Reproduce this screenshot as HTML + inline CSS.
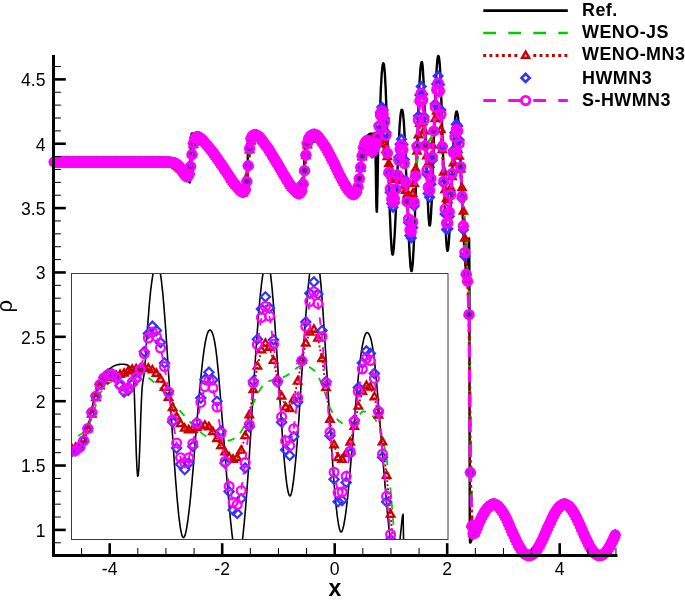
<!DOCTYPE html>
<html><head><meta charset="utf-8"><title>Shu-Osher density</title>
<style>
html,body{margin:0;padding:0;background:#fff;}
svg{display:block}
text{font-family:"Liberation Sans",sans-serif;fill:#000}
.tl{font-size:17.6px}
.lt{font-size:17.9px;font-weight:bold;letter-spacing:0.5px}
.ref{fill:none;stroke:#000;stroke-width:2.4;stroke-linejoin:round}
.js{fill:none;stroke:#00cc00;stroke-width:2.5;stroke-dasharray:12.7 12.3}
.mn{fill:none;stroke:#cc0000;stroke-width:2.9;stroke-dasharray:2.9 3.3;marker-start:url(#kT2);marker-mid:url(#kT2);marker-end:url(#kT2)}
.hw{fill:none;stroke:none;marker-start:url(#kD2);marker-mid:url(#kD2);marker-end:url(#kD2)}
.sh{fill:none;stroke:#ff00ff;stroke-width:3.1;stroke-dasharray:12.7 12.3;marker-start:url(#kC2);marker-mid:url(#kC2);marker-end:url(#kC2)}
.in .ref{stroke-width:1.6}
.in .js{stroke-width:1.8;stroke-dasharray:7.6 7.4}
.in .mn{stroke-width:1.9;stroke-dasharray:1.9 2.1;marker-start:url(#kT);marker-mid:url(#kT);marker-end:url(#kT)}
.in .hw{marker-start:url(#kD);marker-mid:url(#kD);marker-end:url(#kD)}
.in .sh{stroke-width:1.9;stroke-dasharray:7.6 7.4;marker-start:url(#kC);marker-mid:url(#kC);marker-end:url(#kC)}
.lg{marker-start:none;marker-mid:none;marker-end:none}
.maj{stroke:#000;stroke-width:2.6}
.min{stroke:#000;stroke-width:1}
.ax{stroke:#000;stroke-width:3;fill:none;stroke-linecap:square}
</style></head><body>
<svg width="685" height="601" viewBox="0 0 685 601">
<defs>
<g id="mT"><path d="M0,-4.3 L3.72,2.15 L-3.72,2.15 Z" fill="none" stroke="#cc0000" stroke-width="2.3"/></g>
<g id="mD"><path d="M0,-4.6 L4.6,0 L0,4.6 L-4.6,0 Z" fill="none" stroke="#3333ff" stroke-width="2.2"/></g>
<g id="mC"><circle r="4.45" fill="none" stroke="#ff00ff" stroke-width="2.2"/></g>
<g id="mT2"><path d="M0,-4.0 L3.46,2.0 L-3.46,2.0 Z" fill="none" stroke="#cc0000" stroke-width="2.5"/></g>
<g id="mD2"><path d="M0,-4.05 L4.05,0 L0,4.05 L-4.05,0 Z" fill="none" stroke="#3333ff" stroke-width="2.7"/></g>
<g id="mC2"><circle r="4.2" fill="none" stroke="#ff00ff" stroke-width="2.85"/></g>
<marker id="kT2" markerUnits="userSpaceOnUse" markerWidth="16" markerHeight="16" refX="0" refY="0" viewBox="-8 -8 16 16" overflow="visible"><use href="#mT2"/></marker>
<marker id="kD2" markerUnits="userSpaceOnUse" markerWidth="16" markerHeight="16" refX="0" refY="0" viewBox="-8 -8 16 16" overflow="visible"><use href="#mD2"/></marker>
<marker id="kC2" markerUnits="userSpaceOnUse" markerWidth="16" markerHeight="16" refX="0" refY="0" viewBox="-8 -8 16 16" overflow="visible"><use href="#mC2"/></marker>
<marker id="kT" markerUnits="userSpaceOnUse" markerWidth="16" markerHeight="16" refX="0" refY="0" viewBox="-8 -8 16 16" overflow="visible"><use href="#mT"/></marker>
<marker id="kD" markerUnits="userSpaceOnUse" markerWidth="16" markerHeight="16" refX="0" refY="0" viewBox="-8 -8 16 16" overflow="visible"><use href="#mD"/></marker>
<marker id="kC" markerUnits="userSpaceOnUse" markerWidth="16" markerHeight="16" refX="0" refY="0" viewBox="-8 -8 16 16" overflow="visible"><use href="#mC"/></marker>
<clipPath id="ci"><rect x="71.5" y="273.5" width="376.5" height="266.0"/></clipPath>
<clipPath id="cm"><rect x="40" y="55.0" width="585.45" height="501.5"/></clipPath>
</defs>
<rect width="685" height="601" fill="#fff"/>
<g>
<polyline class="ref" points="53.6,162.1 53.8,162.1 54.0,162.1 54.2,162.1 54.5,162.1 54.7,162.1 54.9,162.1 55.1,162.1 55.4,162.1 55.6,162.1 55.8,162.1 56.0,162.1 56.3,162.1 56.5,162.1 56.7,162.1 56.9,162.1 57.2,162.1 57.4,162.1 57.6,162.1 57.8,162.1 58.1,162.1 58.3,162.1 58.5,162.1 58.7,162.1 59.0,162.1 59.2,162.1 59.4,162.1 59.6,162.1 59.9,162.1 60.1,162.1 60.3,162.1 60.5,162.1 60.8,162.1 61.0,162.1 61.2,162.1 61.4,162.1 61.7,162.1 61.9,162.1 62.1,162.1 62.3,162.1 62.6,162.1 62.8,162.1 63.0,162.1 63.2,162.1 63.5,162.1 63.7,162.1 63.9,162.1 64.1,162.1 64.4,162.1 64.6,162.1 64.8,162.1 65.0,162.1 65.3,162.1 65.5,162.1 65.7,162.1 65.9,162.1 66.2,162.1 66.4,162.1 66.6,162.1 66.8,162.1 67.1,162.1 67.3,162.1 67.5,162.1 67.7,162.1 68.0,162.1 68.2,162.1 68.4,162.1 68.6,162.1 68.9,162.1 69.1,162.1 69.3,162.1 69.5,162.1 69.8,162.1 70.0,162.1 70.2,162.1 70.4,162.1 70.7,162.1 70.9,162.1 71.1,162.1 71.3,162.1 71.6,162.1 71.8,162.1 72.0,162.1 72.2,162.1 72.5,162.1 72.7,162.1 72.9,162.1 73.1,162.1 73.4,162.1 73.6,162.1 73.8,162.1 74.0,162.1 74.3,162.1 74.5,162.1 74.7,162.1 74.9,162.1 75.2,162.1 75.4,162.1 75.6,162.1 75.8,162.1 76.1,162.1 76.3,162.1 76.5,162.1 76.7,162.1 77.0,162.1 77.2,162.1 77.4,162.1 77.6,162.1 77.9,162.1 78.1,162.1 78.3,162.1 78.5,162.1 78.8,162.1 79.0,162.1 79.2,162.1 79.4,162.1 79.7,162.1 79.9,162.1 80.1,162.1 80.3,162.1 80.6,162.1 80.8,162.1 81.0,162.1 81.2,162.1 81.5,162.1 81.7,162.1 81.9,162.1 82.1,162.1 82.4,162.1 82.6,162.1 82.8,162.1 83.0,162.1 83.3,162.1 83.5,162.1 83.7,162.1 83.9,162.1 84.2,162.1 84.4,162.1 84.6,162.1 84.8,162.1 85.1,162.1 85.3,162.1 85.5,162.1 85.7,162.1 86.0,162.1 86.2,162.1 86.4,162.1 86.6,162.1 86.9,162.1 87.1,162.1 87.3,162.1 87.5,162.1 87.8,162.1 88.0,162.1 88.2,162.1 88.4,162.1 88.7,162.1 88.9,162.1 89.1,162.1 89.3,162.1 89.6,162.1 89.8,162.1 90.0,162.1 90.2,162.1 90.5,162.1 90.7,162.1 90.9,162.1 91.1,162.1 91.4,162.1 91.6,162.1 91.8,162.1 92.0,162.1 92.3,162.1 92.5,162.1 92.7,162.1 92.9,162.1 93.2,162.1 93.4,162.1 93.6,162.1 93.8,162.1 94.1,162.1 94.3,162.1 94.5,162.1 94.7,162.1 95.0,162.1 95.2,162.1 95.4,162.1 95.6,162.1 95.9,162.1 96.1,162.1 96.3,162.1 96.5,162.1 96.8,162.1 97.0,162.1 97.2,162.1 97.4,162.1 97.7,162.1 97.9,162.1 98.1,162.1 98.3,162.1 98.6,162.1 98.8,162.1 99.0,162.1 99.2,162.1 99.5,162.1 99.7,162.1 99.9,162.1 100.1,162.1 100.4,162.1 100.6,162.1 100.8,162.1 101.0,162.1 101.3,162.1 101.5,162.1 101.7,162.1 101.9,162.1 102.2,162.1 102.4,162.1 102.6,162.1 102.8,162.1 103.1,162.1 103.3,162.1 103.5,162.1 103.7,162.1 104.0,162.1 104.2,162.1 104.4,162.1 104.6,162.1 104.9,162.1 105.1,162.1 105.3,162.1 105.5,162.1 105.8,162.1 106.0,162.1 106.2,162.1 106.4,162.1 106.7,162.1 106.9,162.1 107.1,162.1 107.3,162.1 107.6,162.1 107.8,162.1 108.0,162.1 108.2,162.1 108.5,162.1 108.7,162.1 108.9,162.1 109.1,162.1 109.4,162.1 109.6,162.1 109.8,162.1 110.0,162.1 110.3,162.1 110.5,162.1 110.7,162.1 110.9,162.1 111.2,162.1 111.4,162.1 111.6,162.1 111.8,162.1 112.1,162.1 112.3,162.1 112.5,162.1 112.7,162.1 113.0,162.1 113.2,162.1 113.4,162.1 113.6,162.1 113.9,162.1 114.1,162.1 114.3,162.1 114.5,162.1 114.8,162.1 115.0,162.1 115.2,162.1 115.4,162.1 115.7,162.1 115.9,162.1 116.1,162.1 116.3,162.1 116.6,162.1 116.8,162.1 117.0,162.1 117.2,162.1 117.5,162.1 117.7,162.1 117.9,162.1 118.1,162.1 118.4,162.1 118.6,162.1 118.8,162.1 119.0,162.1 119.3,162.1 119.5,162.1 119.7,162.1 119.9,162.1 120.2,162.1 120.4,162.1 120.6,162.1 120.8,162.1 121.1,162.1 121.3,162.1 121.5,162.1 121.7,162.1 122.0,162.1 122.2,162.1 122.4,162.1 122.6,162.1 122.9,162.1 123.1,162.1 123.3,162.1 123.5,162.1 123.8,162.1 124.0,162.1 124.2,162.1 124.4,162.1 124.7,162.1 124.9,162.1 125.1,162.1 125.3,162.1 125.6,162.1 125.8,162.1 126.0,162.1 126.2,162.1 126.5,162.1 126.7,162.1 126.9,162.1 127.1,162.1 127.4,162.1 127.6,162.1 127.8,162.1 128.0,162.1 128.3,162.1 128.5,162.1 128.7,162.1 128.9,162.1 129.2,162.1 129.4,162.1 129.6,162.1 129.8,162.1 130.1,162.1 130.3,162.1 130.5,162.1 130.7,162.1 131.0,162.1 131.2,162.1 131.4,162.1 131.6,162.1 131.9,162.1 132.1,162.1 132.3,162.1 132.5,162.1 132.8,162.1 133.0,162.1 133.2,162.1 133.4,162.1 133.7,162.1 133.9,162.1 134.1,162.1 134.3,162.1 134.6,162.1 134.8,162.1 135.0,162.1 135.2,162.1 135.5,162.1 135.7,162.1 135.9,162.1 136.1,162.1 136.4,162.1 136.6,162.1 136.8,162.1 137.0,162.1 137.3,162.1 137.5,162.1 137.7,162.1 137.9,162.1 138.2,162.1 138.4,162.1 138.6,162.1 138.8,162.1 139.1,162.1 139.3,162.1 139.5,162.1 139.7,162.1 140.0,162.1 140.2,162.1 140.4,162.1 140.6,162.1 140.9,162.1 141.1,162.1 141.3,162.1 141.5,162.1 141.8,162.1 142.0,162.1 142.2,162.1 142.4,162.1 142.7,162.1 142.9,162.1 143.1,162.1 143.3,162.1 143.6,162.1 143.8,162.1 144.0,162.1 144.2,162.1 144.5,162.1 144.7,162.1 144.9,162.1 145.1,162.1 145.4,162.1 145.6,162.1 145.8,162.1 146.0,162.1 146.3,162.1 146.5,162.1 146.7,162.1 146.9,162.1 147.2,162.1 147.4,162.1 147.6,162.1 147.8,162.1 148.1,162.1 148.3,162.1 148.5,162.1 148.7,162.1 149.0,162.1 149.2,162.1 149.4,162.1 149.6,162.1 149.9,162.1 150.1,162.1 150.3,162.1 150.5,162.1 150.8,162.1 151.0,162.1 151.2,162.1 151.4,162.1 151.7,162.1 151.9,162.1 152.1,162.1 152.3,162.1 152.6,162.1 152.8,162.1 153.0,162.1 153.2,162.1 153.5,162.1 153.7,162.1 153.9,162.1 154.1,162.1 154.4,162.1 154.6,162.1 154.8,162.1 155.0,162.1 155.3,162.1 155.5,162.1 155.7,162.1 155.9,162.1 156.2,162.1 156.4,162.1 156.6,162.1 156.8,162.1 157.1,162.1 157.3,162.1 157.5,162.1 157.7,162.1 158.0,162.1 158.2,162.1 158.4,162.1 158.6,162.1 158.9,162.1 159.1,162.1 159.3,162.1 159.5,162.1 159.8,162.1 160.0,162.1 160.2,162.1 160.4,162.1 160.7,162.1 160.9,162.1 161.1,162.1 161.3,162.1 161.6,162.1 161.8,162.1 162.0,162.1 162.2,162.1 162.5,162.1 162.7,162.1 162.9,162.1 163.1,162.1 163.4,162.1 163.6,162.1 163.8,162.1 164.0,162.1 164.3,162.1 164.5,162.1 164.7,162.1 164.9,162.1 165.2,162.1 165.4,162.1 165.6,162.1 165.8,162.1 166.1,162.1 166.3,162.1 166.5,162.1 166.7,162.1 167.0,162.1 167.2,162.1 167.4,162.1 167.6,162.1 167.9,162.1 168.1,162.1 168.3,162.1 168.5,162.1 168.8,162.1 169.0,162.1 169.2,162.1 169.4,162.1 169.7,162.1 169.9,162.1 170.1,162.1 170.3,162.1 170.6,162.1 170.8,162.1 171.0,162.1 171.2,162.1 171.5,162.1 171.7,162.1 171.9,162.1 172.1,162.1 172.4,162.1 172.6,162.1 172.8,162.1 173.0,162.1 173.3,162.1 173.5,162.1 173.7,162.1 173.9,162.1 174.2,162.1 174.4,162.1 174.6,162.1 174.8,162.1 175.1,162.1 175.3,162.1 175.5,162.1 175.7,162.1 176.0,162.1 176.2,162.1 176.4,162.1 176.6,162.1 176.9,162.1 177.1,162.1 177.3,162.1 177.5,162.2 177.8,162.2 178.0,162.2 178.2,162.2 178.4,162.3 178.7,162.4 178.9,162.5 179.1,162.7 179.3,162.9 179.6,163.2 179.8,163.5 180.0,163.8 180.2,164.1 180.5,164.5 180.7,164.9 180.9,165.3 181.1,165.7 181.4,166.1 181.6,166.5 181.8,166.9 182.0,167.4 182.3,167.8 182.5,168.2 182.7,168.7 182.9,169.1 183.2,169.5 183.4,170.0 183.6,170.4 183.8,170.9 184.1,171.3 184.3,171.8 184.5,172.2 184.7,172.7 185.0,173.1 185.2,173.6 185.4,174.0 185.6,174.5 185.9,174.9 186.1,175.4 186.3,175.8 186.5,176.3 186.8,176.7 187.0,177.2 187.2,177.6 187.4,178.1 187.7,178.6 187.9,179.0 188.1,179.5 188.3,179.9 188.6,180.4 188.8,180.9 189.0,181.4 189.2,181.9 189.5,182.3 189.7,182.4 189.9,182.0 190.1,180.6 190.4,176.4 190.6,166.2 190.8,152.1 191.0,140.9 191.3,136.2 191.5,134.4 191.7,133.6 191.9,133.4 192.2,133.4 192.4,133.4 192.6,133.5 192.8,133.5 193.1,133.4 193.3,133.4 193.5,133.4 193.7,133.5 194.0,133.6 194.2,133.7 194.4,133.7 194.6,133.7 194.9,133.7 195.1,133.9 195.3,134.0 195.5,134.2 195.8,134.3 196.0,134.5 196.2,134.7 196.4,134.8 196.7,135.0 196.9,135.3 197.1,135.5 197.3,135.6 197.6,135.8 197.8,135.9 198.0,136.1 198.2,136.3 198.5,136.5 198.7,136.7 198.9,136.9 199.1,137.1 199.4,137.3 199.6,137.5 199.8,137.7 200.0,138.0 200.3,138.2 200.5,138.4 200.7,138.6 200.9,138.8 201.2,139.1 201.4,139.3 201.6,139.6 201.8,139.8 202.1,140.0 202.3,140.3 202.5,140.5 202.7,140.8 203.0,141.0 203.2,141.3 203.4,141.5 203.6,141.8 203.9,142.0 204.1,142.3 204.3,142.6 204.5,142.8 204.8,143.1 205.0,143.4 205.2,143.6 205.4,143.9 205.7,144.2 205.9,144.5 206.1,144.7 206.3,145.0 206.6,145.3 206.8,145.6 207.0,145.9 207.2,146.1 207.5,146.4 207.7,146.7 207.9,147.0 208.1,147.3 208.4,147.6 208.6,147.9 208.8,148.2 209.0,148.5 209.3,148.8 209.5,149.1 209.7,149.4 209.9,149.6 210.2,149.9 210.4,150.2 210.6,150.5 210.8,150.9 211.1,151.2 211.3,151.5 211.5,151.7 211.7,152.0 212.0,152.4 212.2,152.7 212.4,153.0 212.6,153.3 212.9,153.6 213.1,153.9 213.3,154.2 213.5,154.5 213.8,154.8 214.0,155.2 214.2,155.5 214.4,155.8 214.7,156.1 214.9,156.4 215.1,156.7 215.3,157.0 215.6,157.3 215.8,157.7 216.0,158.0 216.2,158.3 216.5,158.6 216.7,158.9 216.9,159.2 217.1,159.6 217.4,159.9 217.6,160.2 217.8,160.5 218.0,160.8 218.3,161.1 218.5,161.5 218.7,161.8 218.9,162.1 219.2,162.4 219.4,162.8 219.6,163.1 219.8,163.4 220.1,163.7 220.3,164.1 220.5,164.4 220.7,164.7 221.0,165.0 221.2,165.3 221.4,165.7 221.6,166.0 221.9,166.3 222.1,166.6 222.3,166.9 222.5,167.3 222.8,167.6 223.0,167.9 223.2,168.2 223.4,168.6 223.7,168.9 223.9,169.2 224.1,169.5 224.3,169.9 224.6,170.2 224.8,170.5 225.0,170.8 225.2,171.2 225.5,171.5 225.7,171.8 225.9,172.1 226.1,172.4 226.4,172.8 226.6,173.1 226.8,173.4 227.0,173.7 227.3,174.1 227.5,174.4 227.7,174.7 227.9,175.0 228.2,175.3 228.4,175.7 228.6,176.0 228.8,176.3 229.1,176.6 229.3,176.9 229.5,177.3 229.7,177.6 230.0,177.9 230.2,178.2 230.4,178.5 230.6,178.8 230.9,179.1 231.1,179.5 231.3,179.8 231.5,180.1 231.8,180.4 232.0,180.7 232.2,181.0 232.4,181.3 232.7,181.6 232.9,182.0 233.1,182.3 233.3,182.6 233.6,182.9 233.8,183.2 234.0,183.5 234.2,183.8 234.5,184.1 234.7,184.4 234.9,184.7 235.1,185.0 235.4,185.3 235.6,185.6 235.8,185.9 236.0,186.2 236.3,186.4 236.5,186.7 236.7,187.0 236.9,187.3 237.2,187.6 237.4,187.9 237.6,188.1 237.8,188.4 238.1,188.7 238.3,189.0 238.5,189.2 238.7,189.5 239.0,189.8 239.2,190.1 239.4,190.3 239.6,190.6 239.9,190.8 240.1,191.1 240.3,191.3 240.5,191.6 240.8,191.8 241.0,192.1 241.2,192.3 241.4,192.5 241.7,192.8 241.9,193.0 242.1,193.2 242.3,193.4 242.6,193.6 242.8,193.8 243.0,194.0 243.2,194.2 243.5,194.4 243.7,194.6 243.9,194.8 244.1,194.9 244.4,195.1 244.6,195.2 244.8,195.3 245.0,195.5 245.3,195.6 245.5,195.7 245.7,195.7 245.9,195.8 246.2,195.8 246.4,195.8 246.6,195.6 246.8,195.0 247.1,193.6 247.3,189.5 247.5,178.8 247.7,161.8 248.0,147.0 248.2,139.5 248.4,136.6 248.6,135.6 248.9,135.2 249.1,135.0 249.3,134.7 249.5,134.4 249.8,134.1 250.0,133.9 250.2,133.8 250.4,133.7 250.7,133.6 250.9,133.5 251.1,133.3 251.3,133.3 251.6,133.3 251.8,133.3 252.0,133.3 252.2,133.3 252.5,133.3 252.7,133.3 252.9,133.3 253.1,133.4 253.4,133.5 253.6,133.5 253.8,133.6 254.0,133.7 254.3,133.8 254.5,133.9 254.7,134.0 254.9,134.2 255.2,134.4 255.4,134.5 255.6,134.6 255.8,134.8 256.1,135.0 256.3,135.1 256.5,135.3 256.7,135.5 257.0,135.7 257.2,135.9 257.4,136.1 257.6,136.3 257.9,136.5 258.1,136.7 258.3,136.9 258.5,137.2 258.8,137.4 259.0,137.6 259.2,137.9 259.4,138.1 259.7,138.4 259.9,138.6 260.1,138.8 260.3,139.1 260.6,139.3 260.8,139.6 261.0,139.9 261.2,140.2 261.5,140.4 261.7,140.7 261.9,141.0 262.1,141.3 262.4,141.6 262.6,141.8 262.8,142.1 263.0,142.4 263.3,142.7 263.5,143.0 263.7,143.3 263.9,143.6 264.2,143.9 264.4,144.2 264.6,144.6 264.8,144.9 265.1,145.2 265.3,145.5 265.5,145.8 265.7,146.1 266.0,146.5 266.2,146.8 266.4,147.1 266.6,147.4 266.9,147.8 267.1,148.1 267.3,148.4 267.5,148.8 267.8,149.1 268.0,149.4 268.2,149.8 268.4,150.1 268.7,150.5 268.9,150.8 269.1,151.2 269.3,151.5 269.6,151.8 269.8,152.2 270.0,152.6 270.2,152.9 270.5,153.3 270.7,153.6 270.9,154.0 271.1,154.3 271.4,154.7 271.6,155.0 271.8,155.4 272.0,155.8 272.3,156.1 272.5,156.5 272.7,156.8 272.9,157.2 273.2,157.6 273.4,157.9 273.6,158.3 273.8,158.7 274.1,159.0 274.3,159.4 274.5,159.8 274.7,160.1 275.0,160.5 275.2,160.9 275.4,161.2 275.6,161.6 275.9,162.0 276.1,162.3 276.3,162.7 276.5,163.1 276.8,163.5 277.0,163.8 277.2,164.2 277.4,164.6 277.7,165.0 277.9,165.3 278.1,165.7 278.3,166.1 278.6,166.4 278.8,166.8 279.0,167.2 279.2,167.6 279.5,167.9 279.7,168.3 279.9,168.7 280.1,169.1 280.4,169.4 280.6,169.8 280.8,170.2 281.0,170.6 281.3,170.9 281.5,171.3 281.7,171.7 281.9,172.1 282.2,172.4 282.4,172.8 282.6,173.2 282.8,173.6 283.1,173.9 283.3,174.3 283.5,174.7 283.7,175.1 284.0,175.4 284.2,175.8 284.4,176.2 284.6,176.5 284.9,176.9 285.1,177.3 285.3,177.6 285.5,178.0 285.8,178.4 286.0,178.7 286.2,179.1 286.4,179.5 286.7,179.8 286.9,180.2 287.1,180.5 287.3,180.9 287.6,181.3 287.8,181.6 288.0,182.0 288.2,182.3 288.5,182.7 288.7,183.0 288.9,183.4 289.1,183.7 289.4,184.1 289.6,184.4 289.8,184.8 290.0,185.1 290.3,185.4 290.5,185.8 290.7,186.1 290.9,186.5 291.2,186.8 291.4,187.1 291.6,187.4 291.8,187.8 292.1,188.1 292.3,188.4 292.5,188.7 292.7,189.0 293.0,189.3 293.2,189.6 293.4,189.9 293.6,190.2 293.9,190.5 294.1,190.8 294.3,191.1 294.5,191.4 294.8,191.7 295.0,191.9 295.2,192.2 295.4,192.5 295.7,192.7 295.9,193.0 296.1,193.2 296.3,193.5 296.6,193.7 296.8,193.9 297.0,194.1 297.2,194.3 297.5,194.5 297.7,194.7 297.9,194.9 298.1,195.0 298.4,195.2 298.6,195.3 298.8,195.5 299.0,195.6 299.3,195.7 299.5,195.7 299.7,195.8 299.9,195.8 300.2,195.8 300.4,195.8 300.6,195.8 300.8,195.7 301.1,195.6 301.3,195.4 301.5,195.2 301.7,194.9 302.0,194.6 302.2,194.1 302.4,193.5 302.6,192.8 302.9,192.0 303.1,190.9 303.3,189.3 303.5,186.3 303.8,180.2 304.0,171.3 304.2,162.0 304.4,155.0 304.7,151.0 304.9,148.8 305.1,147.1 305.3,145.5 305.6,144.0 305.8,142.7 306.0,141.7 306.2,140.7 306.5,139.9 306.7,139.2 306.9,138.5 307.1,137.9 307.4,137.4 307.6,136.9 307.8,136.4 308.0,136.0 308.3,135.7 308.5,135.3 308.7,135.0 308.9,134.8 309.2,134.5 309.4,134.3 309.6,134.1 309.8,134.0 310.1,133.8 310.3,133.7 310.5,133.6 310.7,133.5 311.0,133.5 311.2,133.4 311.4,133.4 311.6,133.4 311.9,133.4 312.1,133.4 312.3,133.4 312.5,133.4 312.8,133.5 313.0,133.5 313.2,133.6 313.4,133.7 313.7,133.8 313.9,133.9 314.1,134.0 314.3,134.1 314.6,134.3 314.8,134.4 315.0,134.6 315.2,134.7 315.5,134.9 315.7,135.1 315.9,135.3 316.1,135.5 316.4,135.7 316.6,135.9 316.8,136.1 317.0,136.3 317.3,136.5 317.5,136.8 317.7,137.0 317.9,137.3 318.2,137.5 318.4,137.8 318.6,138.0 318.8,138.3 319.1,138.6 319.3,138.9 319.5,139.1 319.7,139.4 320.0,139.7 320.2,140.0 320.4,140.3 320.6,140.6 320.9,140.9 321.1,141.3 321.3,141.6 321.5,141.9 321.8,142.2 322.0,142.6 322.2,142.9 322.4,143.3 322.7,143.6 322.9,144.0 323.1,144.3 323.3,144.7 323.6,145.0 323.8,145.4 324.0,145.8 324.2,146.1 324.5,146.5 324.7,146.9 324.9,147.3 325.1,147.6 325.4,148.0 325.6,148.4 325.8,148.8 326.0,149.2 326.3,149.6 326.5,150.0 326.7,150.4 326.9,150.8 327.2,151.2 327.4,151.6 327.6,152.0 327.8,152.4 328.1,152.8 328.3,153.2 328.5,153.7 328.7,154.1 329.0,154.5 329.2,154.9 329.4,155.3 329.6,155.8 329.9,156.2 330.1,156.6 330.3,157.1 330.5,157.5 330.8,157.9 331.0,158.4 331.2,158.8 331.4,159.2 331.7,159.7 331.9,160.1 332.1,160.5 332.3,161.0 332.6,161.4 332.8,161.9 333.0,162.3 333.2,162.7 333.5,163.2 333.7,163.6 333.9,164.1 334.1,164.5 334.4,165.0 334.6,165.4 334.8,165.9 335.0,166.3 335.3,166.8 335.5,167.2 335.7,167.7 335.9,168.1 336.2,168.6 336.4,169.0 336.6,169.5 336.8,169.9 337.1,170.4 337.3,170.8 337.5,171.3 337.7,171.7 338.0,172.2 338.2,172.6 338.4,173.1 338.6,173.5 338.9,174.0 339.1,174.4 339.3,174.8 339.5,175.3 339.8,175.7 340.0,176.2 340.2,176.6 340.4,177.1 340.7,177.5 340.9,177.9 341.1,178.4 341.3,178.8 341.6,179.3 341.8,179.7 342.0,180.1 342.2,180.6 342.5,181.0 342.7,181.4 342.9,181.8 343.1,182.3 343.4,182.7 343.6,183.1 343.8,183.5 344.0,183.9 344.3,184.3 344.5,184.7 344.7,185.2 344.9,185.6 345.2,186.0 345.4,186.4 345.6,186.7 345.8,187.1 346.1,187.5 346.3,187.9 346.5,188.3 346.7,188.6 347.0,189.0 347.2,189.4 347.4,189.7 347.6,190.1 347.9,190.4 348.1,190.8 348.3,191.1 348.5,191.4 348.8,191.8 349.0,192.1 349.2,192.4 349.4,192.7 349.7,193.0 349.9,193.2 350.1,193.5 350.3,193.8 350.6,194.0 350.8,194.3 351.0,194.5 351.2,194.7 351.5,194.9 351.7,195.1 351.9,195.3 352.1,195.5 352.4,195.6 352.6,195.8 352.8,195.9 353.0,196.0 353.3,196.0 353.5,196.1 353.7,196.1 353.9,196.1 354.2,196.1 354.4,196.1 354.6,196.0 354.8,195.8 355.1,195.7 355.3,195.5 355.5,195.2 355.7,194.9 356.0,194.5 356.2,194.1 356.4,193.7 356.6,193.1 356.9,192.5 357.1,191.8 357.3,191.0 357.5,190.1 357.8,189.0 358.0,187.8 358.2,186.5 358.4,185.1 358.7,183.5 358.9,181.7 359.1,179.8 359.3,177.8 359.6,175.7 359.8,173.5 360.0,171.3 360.2,169.1 360.5,166.9 360.7,164.8 360.9,162.8 361.1,160.9 361.4,159.1 361.6,157.3 361.8,155.7 362.0,154.2 362.3,152.8 362.5,151.5 362.7,150.2 362.9,149.0 363.2,147.9 363.4,146.8 363.6,145.9 363.8,144.9 364.1,144.1 364.3,143.3 364.5,142.5 364.7,141.8 365.0,141.1 365.2,140.5 365.4,139.9 365.6,139.3 365.9,138.8 366.1,138.3 366.3,137.8 366.5,137.4 366.8,137.0 367.0,136.6 367.2,136.3 367.4,136.0 367.7,135.7 367.9,135.4 368.1,135.1 368.3,134.9 368.6,134.7 368.8,134.5 369.0,134.4 369.2,134.2 369.5,134.1 369.7,134.0 369.9,133.8 370.1,133.8 370.4,133.7 370.6,133.6 370.8,133.6 371.0,133.6 371.3,133.6 371.5,133.6 371.7,133.6 371.9,133.6 372.2,133.7 372.4,133.8 372.6,133.8 372.8,133.9 373.1,134.1 373.3,134.3 373.5,134.6 373.7,135.0 374.0,135.4 374.2,135.9 374.4,136.4 374.6,137.0 374.9,138.0 375.1,140.0 375.3,145.4 375.5,155.3 375.8,168.4 376.0,182.8 376.2,196.3 376.4,206.5 376.7,211.8 376.9,211.5 377.1,205.9 377.3,196.0 377.6,183.4 377.8,169.9 378.0,157.7 378.2,150.2 378.5,146.0 378.7,143.4 378.9,140.6 379.1,136.5 379.4,130.9 379.6,123.6 379.8,116.7 380.0,110.4 380.3,104.2 380.5,98.2 380.7,92.7 380.9,87.6 381.2,83.1 381.4,79.2 381.6,75.8 381.8,72.8 382.1,70.2 382.3,68.0 382.5,66.2 382.7,64.8 383.0,63.9 383.2,63.3 383.4,63.3 383.6,63.6 383.9,64.5 384.1,65.7 384.3,67.5 384.5,69.7 384.8,72.5 385.0,75.8 385.2,79.6 385.4,84.0 385.7,89.0 385.9,94.4 386.1,100.2 386.3,106.4 386.6,112.8 386.8,119.5 387.0,126.4 387.2,133.3 387.5,140.4 387.7,147.5 387.9,154.6 388.1,161.8 388.4,168.9 388.6,175.9 388.8,182.9 389.0,189.8 389.3,196.5 389.5,203.1 389.7,209.4 389.9,215.4 390.2,221.1 390.4,226.5 390.6,231.5 390.8,236.1 391.1,240.3 391.3,244.0 391.5,247.2 391.7,249.9 392.0,252.0 392.2,253.5 392.4,254.5 392.6,254.7 392.9,254.4 393.1,253.6 393.3,252.1 393.5,250.2 393.8,247.9 394.0,245.1 394.2,242.0 394.4,238.5 394.7,234.7 394.9,230.6 395.1,226.2 395.3,221.6 395.6,216.7 395.8,211.5 396.0,206.2 396.2,200.8 396.5,195.2 396.7,189.6 396.9,184.0 397.1,178.4 397.4,172.9 397.6,167.4 397.8,162.1 398.0,156.9 398.3,151.9 398.5,147.1 398.7,142.5 398.9,138.1 399.2,134.0 399.4,130.2 399.6,126.6 399.8,123.4 400.1,120.4 400.3,117.9 400.5,115.6 400.7,113.7 401.0,112.2 401.2,111.1 401.4,110.3 401.6,109.8 401.9,109.7 402.1,109.8 402.3,110.3 402.5,111.0 402.8,112.1 403.0,113.5 403.2,115.2 403.4,117.4 403.7,119.9 403.9,123.0 404.1,126.5 404.3,130.4 404.6,134.7 404.8,139.4 405.0,144.4 405.2,149.7 405.5,155.1 405.7,160.7 405.9,166.3 406.1,172.1 406.4,177.8 406.6,183.6 406.8,189.3 407.0,195.1 407.3,200.8 407.5,206.5 407.7,212.1 407.9,217.7 408.2,223.1 408.4,228.4 408.6,233.6 408.8,238.5 409.1,243.2 409.3,247.6 409.5,251.7 409.7,255.5 410.0,259.0 410.2,262.1 410.4,264.8 410.6,267.0 410.9,268.8 411.1,270.1 411.3,270.9 411.5,271.1 411.8,270.8 412.0,269.8 412.2,268.4 412.4,266.4 412.7,263.9 412.9,260.9 413.1,257.5 413.3,253.7 413.6,249.5 413.8,244.9 414.0,240.0 414.2,234.8 414.5,229.2 414.7,223.3 414.9,217.0 415.1,210.5 415.4,203.8 415.6,196.8 415.8,189.7 416.0,182.5 416.3,175.2 416.5,167.9 416.7,160.6 416.9,153.3 417.2,146.1 417.4,139.0 417.6,132.1 417.8,125.3 418.1,118.7 418.3,112.3 418.5,106.3 418.7,100.5 419.0,95.0 419.2,89.9 419.4,85.2 419.6,80.9 419.9,77.0 420.1,73.6 420.3,70.6 420.5,68.1 420.8,66.0 421.0,64.4 421.2,63.2 421.4,62.4 421.7,62.0 421.9,62.1 422.1,62.7 422.3,63.9 422.6,65.7 422.8,68.3 423.0,71.5 423.2,75.3 423.5,79.8 423.7,84.9 423.9,90.4 424.1,96.2 424.4,102.4 424.6,108.8 424.8,115.3 425.0,122.0 425.3,128.7 425.5,135.5 425.7,142.3 425.9,149.2 426.2,156.1 426.4,162.9 426.6,169.7 426.8,176.3 427.1,182.8 427.3,189.0 427.5,194.8 427.7,200.3 428.0,205.3 428.2,209.9 428.4,214.0 428.6,217.5 428.9,220.4 429.1,222.8 429.3,224.4 429.5,225.4 429.8,225.6 430.0,225.1 430.2,223.9 430.4,221.9 430.7,219.3 430.9,216.2 431.1,212.6 431.3,208.5 431.6,204.0 431.8,199.1 432.0,193.9 432.2,188.2 432.5,182.2 432.7,175.9 432.9,169.3 433.1,162.5 433.4,155.6 433.6,148.6 433.8,141.6 434.0,134.6 434.3,127.7 434.5,120.9 434.7,114.3 434.9,107.9 435.2,101.8 435.4,95.9 435.6,90.3 435.8,85.0 436.1,80.1 436.3,75.6 436.5,71.5 436.7,67.9 437.0,64.7 437.2,62.0 437.4,59.8 437.6,58.1 437.9,56.8 438.1,56.1 438.3,55.9 438.5,56.0 438.8,56.6 439.0,57.7 439.2,59.1 439.4,61.0 439.7,63.5 439.9,66.4 440.1,70.0 440.3,74.3 440.6,79.1 440.8,84.5 441.0,90.5 441.2,96.8 441.5,103.5 441.7,110.5 441.9,117.6 442.1,124.8 442.4,132.1 442.6,139.4 442.8,146.7 443.0,154.0 443.3,161.3 443.5,168.6 443.7,175.8 443.9,182.9 444.2,189.9 444.4,196.7 444.6,203.3 444.8,209.7 445.1,215.7 445.3,221.3 445.5,226.5 445.7,231.3 446.0,235.6 446.2,239.4 446.4,242.8 446.6,245.6 446.9,247.8 447.1,249.5 447.3,250.5 447.5,250.8 447.8,250.6 448.0,249.7 448.2,248.3 448.4,246.3 448.7,244.0 448.9,241.2 449.1,238.2 449.3,234.8 449.6,231.1 449.8,227.1 450.0,222.7 450.2,218.1 450.5,213.2 450.7,208.1 450.9,202.8 451.1,197.4 451.4,191.9 451.6,186.5 451.8,181.0 452.0,175.6 452.3,170.2 452.5,165.0 452.7,159.9 452.9,154.9 453.2,150.1 453.4,145.5 453.6,141.1 453.8,137.0 454.1,133.1 454.3,129.5 454.5,126.2 454.7,123.2 455.0,120.6 455.2,118.2 455.4,116.2 455.6,114.6 455.9,113.3 456.1,112.3 456.3,111.7 456.5,111.5 456.8,111.5 457.0,111.9 457.2,112.4 457.4,113.3 457.7,114.4 457.9,115.8 458.1,117.6 458.3,119.7 458.6,122.2 458.8,125.3 459.0,128.8 459.2,132.7 459.5,137.0 459.7,141.7 459.9,146.7 460.1,151.9 460.4,157.2 460.6,162.7 460.8,168.2 461.0,173.8 461.3,179.4 461.5,185.0 461.7,190.5 461.9,196.1 462.2,201.7 462.4,207.2 462.6,212.7 462.8,218.1 463.1,223.4 463.3,228.6 463.5,233.7 463.7,238.7 464.0,243.4 464.2,247.8 464.4,251.9 464.6,255.6 464.9,259.0 465.1,261.9 465.3,264.5 465.5,266.6 465.8,268.4 466.0,269.7 466.2,270.5 466.4,270.7 466.7,270.5 466.9,269.6 467.1,268.6 467.3,266.9 467.6,264.4 467.8,261.0 468.0,256.8 468.2,252.6 468.5,248.2 468.7,243.7 468.9,239.7 469.1,238.4 469.4,265.2 469.6,425.3 469.8,533.0 470.0,542.3 470.3,542.6 470.5,542.2 470.7,541.7 470.9,541.2 471.2,540.8 471.4,540.3 471.6,539.8 471.8,539.4 472.1,538.9 472.3,538.4 472.5,537.9 472.7,537.4 473.0,536.9 473.2,536.4 473.4,535.9 473.6,535.4 473.9,534.9 474.1,534.4 474.3,533.9 474.5,533.4 474.8,532.9 475.0,532.4 475.2,531.9 475.4,531.4 475.7,530.8 475.9,530.3 476.1,529.8 476.3,529.3 476.6,528.8 476.8,528.3 477.0,527.7 477.2,527.2 477.5,526.7 477.7,526.2 477.9,525.7 478.1,525.2 478.4,524.7 478.6,524.2 478.8,523.7 479.0,523.2 479.3,522.7 479.5,522.2 479.7,521.7 479.9,521.2 480.2,520.7 480.4,520.3 480.6,519.8 480.8,519.3 481.1,518.9 481.3,518.4 481.5,517.9 481.7,517.5 482.0,517.0 482.2,516.6 482.4,516.1 482.6,515.7 482.9,515.3 483.1,514.9 483.3,514.5 483.5,514.0 483.8,513.6 484.0,513.2 484.2,512.9 484.4,512.5 484.7,512.1 484.9,511.7 485.1,511.4 485.3,511.0 485.6,510.7 485.8,510.3 486.0,510.0 486.2,509.7 486.5,509.4 486.7,509.1 486.9,508.8 487.1,508.5 487.4,508.2 487.6,507.9 487.8,507.7 488.0,507.4 488.3,507.2 488.5,506.9 488.7,506.7 488.9,506.5 489.2,506.3 489.4,506.1 489.6,505.9 489.8,505.7 490.1,505.5 490.3,505.4 490.5,505.2 490.7,505.1 491.0,504.9 491.2,504.8 491.4,504.7 491.6,504.6 491.9,504.5 492.1,504.4 492.3,504.4 492.5,504.3 492.8,504.3 493.0,504.2 493.2,504.2 493.4,504.2 493.7,504.2 493.9,504.2 494.1,504.2 494.3,504.2 494.6,504.2 494.8,504.3 495.0,504.3 495.2,504.4 495.5,504.5 495.7,504.5 495.9,504.6 496.1,504.7 496.4,504.9 496.6,505.0 496.8,505.1 497.0,505.3 497.3,505.4 497.5,505.6 497.7,505.7 497.9,505.9 498.2,506.1 498.4,506.3 498.6,506.5 498.8,506.8 499.1,507.0 499.3,507.2 499.5,507.5 499.7,507.7 500.0,508.0 500.2,508.3 500.4,508.5 500.6,508.8 500.9,509.1 501.1,509.4 501.3,509.8 501.5,510.1 501.8,510.4 502.0,510.8 502.2,511.1 502.4,511.5 502.7,511.8 502.9,512.2 503.1,512.6 503.3,513.0 503.6,513.4 503.8,513.8 504.0,514.2 504.2,514.6 504.5,515.0 504.7,515.4 504.9,515.8 505.1,516.3 505.4,516.7 505.6,517.2 505.8,517.6 506.0,518.1 506.3,518.5 506.5,519.0 506.7,519.5 506.9,519.9 507.2,520.4 507.4,520.9 507.6,521.4 507.8,521.9 508.1,522.3 508.3,522.8 508.5,523.3 508.7,523.8 509.0,524.3 509.2,524.8 509.4,525.3 509.6,525.9 509.9,526.4 510.1,526.9 510.3,527.4 510.5,527.9 510.8,528.4 511.0,528.9 511.2,529.4 511.4,530.0 511.7,530.5 511.9,531.0 512.1,531.5 512.3,532.0 512.6,532.5 512.8,533.0 513.0,533.5 513.2,534.1 513.5,534.6 513.7,535.1 513.9,535.6 514.1,536.1 514.4,536.6 514.6,537.1 514.8,537.6 515.0,538.0 515.3,538.5 515.5,539.0 515.7,539.5 515.9,540.0 516.2,540.4 516.4,540.9 516.6,541.4 516.8,541.8 517.1,542.3 517.3,542.7 517.5,543.2 517.7,543.6 518.0,544.1 518.2,544.5 518.4,544.9 518.6,545.3 518.9,545.7 519.1,546.1 519.3,546.5 519.5,546.9 519.8,547.3 520.0,547.7 520.2,548.0 520.4,548.4 520.7,548.8 520.9,549.1 521.1,549.4 521.3,549.8 521.6,550.1 521.8,550.4 522.0,550.7 522.2,551.0 522.5,551.3 522.7,551.6 522.9,551.9 523.1,552.1 523.4,552.4 523.6,552.6 523.8,552.9 524.0,553.1 524.3,553.3 524.5,553.5 524.7,553.7 524.9,553.9 525.2,554.1 525.4,554.3 525.6,554.4 525.8,554.6 526.1,554.7 526.3,554.9 526.5,555.0 526.7,555.1 527.0,555.2 527.2,555.3 527.4,555.4 527.6,555.4 527.9,555.5 528.1,555.5 528.3,555.6 528.5,555.6 528.8,555.6 529.0,555.6 529.2,555.6 529.4,555.6 529.7,555.6 529.9,555.6 530.1,555.5 530.3,555.5 530.6,555.4 530.8,555.4 531.0,555.3 531.2,555.2 531.5,555.1 531.7,555.0 531.9,554.8 532.1,554.7 532.4,554.6 532.6,554.4 532.8,554.2 533.0,554.1 533.3,553.9 533.5,553.7 533.7,553.5 533.9,553.3 534.2,553.1 534.4,552.8 534.6,552.6 534.8,552.4 535.1,552.1 535.3,551.8 535.5,551.6 535.7,551.3 536.0,551.0 536.2,550.7 536.4,550.4 536.6,550.1 536.9,549.7 537.1,549.4 537.3,549.1 537.5,548.7 537.8,548.4 538.0,548.0 538.2,547.6 538.4,547.3 538.7,546.9 538.9,546.5 539.1,546.1 539.3,545.7 539.6,545.3 539.8,544.8 540.0,544.4 540.2,544.0 540.5,543.6 540.7,543.1 540.9,542.7 541.1,542.2 541.4,541.8 541.6,541.3 541.8,540.9 542.0,540.4 542.3,539.9 542.5,539.4 542.7,539.0 542.9,538.5 543.2,538.0 543.4,537.5 543.6,537.0 543.8,536.5 544.1,536.0 544.3,535.5 544.5,535.0 544.7,534.5 545.0,534.0 545.2,533.5 545.4,533.0 545.6,532.5 545.9,531.9 546.1,531.4 546.3,530.9 546.5,530.4 546.8,529.9 547.0,529.4 547.2,528.9 547.4,528.3 547.7,527.8 547.9,527.3 548.1,526.8 548.3,526.3 548.6,525.8 548.8,525.3 549.0,524.8 549.2,524.3 549.5,523.8 549.7,523.3 549.9,522.8 550.1,522.3 550.4,521.8 550.6,521.3 550.8,520.8 551.0,520.3 551.3,519.9 551.5,519.4 551.7,518.9 551.9,518.5 552.2,518.0 552.4,517.5 552.6,517.1 552.8,516.7 553.1,516.2 553.3,515.8 553.5,515.4 553.7,514.9 554.0,514.5 554.2,514.1 554.4,513.7 554.6,513.3 554.9,512.9 555.1,512.5 555.3,512.2 555.5,511.8 555.8,511.4 556.0,511.1 556.2,510.7 556.4,510.4 556.7,510.1 556.9,509.7 557.1,509.4 557.3,509.1 557.6,508.8 557.8,508.5 558.0,508.2 558.2,508.0 558.5,507.7 558.7,507.4 558.9,507.2 559.1,507.0 559.4,506.7 559.6,506.5 559.8,506.3 560.0,506.1 560.3,505.9 560.5,505.7 560.7,505.5 560.9,505.4 561.2,505.2 561.4,505.1 561.6,505.0 561.8,504.8 562.1,504.7 562.3,504.6 562.5,504.5 562.7,504.4 563.0,504.4 563.2,504.3 563.4,504.3 563.6,504.2 563.9,504.2 564.1,504.2 564.3,504.2 564.5,504.2 564.8,504.2 565.0,504.2 565.2,504.2 565.4,504.3 565.7,504.3 565.9,504.4 566.1,504.4 566.3,504.5 566.6,504.6 566.8,504.7 567.0,504.8 567.2,505.0 567.5,505.1 567.7,505.2 567.9,505.4 568.1,505.5 568.4,505.7 568.6,505.9 568.8,506.1 569.0,506.3 569.3,506.5 569.5,506.7 569.7,506.9 569.9,507.2 570.2,507.4 570.4,507.7 570.6,507.9 570.8,508.2 571.1,508.5 571.3,508.8 571.5,509.1 571.7,509.4 572.0,509.7 572.2,510.0 572.4,510.4 572.6,510.7 572.9,511.1 573.1,511.4 573.3,511.8 573.5,512.1 573.8,512.5 574.0,512.9 574.2,513.3 574.4,513.7 574.7,514.1 574.9,514.5 575.1,514.9 575.3,515.3 575.6,515.8 575.8,516.2 576.0,516.6 576.2,517.1 576.5,517.5 576.7,518.0 576.9,518.4 577.1,518.9 577.4,519.4 577.6,519.8 577.8,520.3 578.0,520.8 578.3,521.3 578.5,521.8 578.7,522.3 578.9,522.8 579.2,523.3 579.4,523.8 579.6,524.3 579.8,524.8 580.1,525.3 580.3,525.8 580.5,526.3 580.7,526.8 581.0,527.3 581.2,527.8 581.4,528.3 581.6,528.8 581.9,529.4 582.1,529.9 582.3,530.4 582.5,530.9 582.8,531.4 583.0,531.9 583.2,532.4 583.4,533.0 583.7,533.5 583.9,534.0 584.1,534.5 584.3,535.0 584.6,535.5 584.8,536.0 585.0,536.5 585.2,537.0 585.5,537.5 585.7,538.0 585.9,538.5 586.1,538.9 586.4,539.4 586.6,539.9 586.8,540.4 587.0,540.8 587.3,541.3 587.5,541.8 587.7,542.2 587.9,542.7 588.2,543.1 588.4,543.5 588.6,544.0 588.8,544.4 589.1,544.8 589.3,545.3 589.5,545.7 589.7,546.1 590.0,546.5 590.2,546.9 590.4,547.2 590.6,547.6 590.9,548.0 591.1,548.3 591.3,548.7 591.5,549.1 591.8,549.4 592.0,549.7 592.2,550.0 592.4,550.4 592.7,550.7 592.9,551.0 593.1,551.3 593.3,551.5 593.6,551.8 593.8,552.1 594.0,552.3 594.2,552.6 594.5,552.8 594.7,553.1 594.9,553.3 595.1,553.5 595.4,553.7 595.6,553.9 595.8,554.1 596.0,554.2 596.3,554.4 596.5,554.6 596.7,554.7 596.9,554.8 597.2,555.0 597.4,555.1 597.6,555.2 597.8,555.3 598.1,555.3 598.3,555.4 598.5,555.5 598.7,555.5 599.0,555.6 599.2,555.6 599.4,555.6 599.6,555.6 599.9,555.6 600.1,555.6 600.3,555.6 600.5,555.6 600.8,555.5 601.0,555.5 601.2,555.4 601.4,555.4 601.7,555.3 601.9,555.2 602.1,555.1 602.3,555.0 602.6,554.9 602.8,554.7 603.0,554.6 603.2,554.4 603.5,554.3 603.7,554.1 603.9,553.9 604.1,553.7 604.4,553.5 604.6,553.3 604.8,553.1 605.0,552.9 605.3,552.6 605.5,552.4 605.7,552.1 605.9,551.9 606.2,551.6 606.4,551.3 606.6,551.0 606.8,550.7 607.1,550.4 607.3,550.1 607.5,549.8 607.7,549.5 608.0,549.1 608.2,548.8 608.4,548.4 608.6,548.1 608.9,547.7 609.1,547.3 609.3,546.9 609.5,546.5 609.8,546.1 610.0,545.7 610.2,545.3 610.4,544.9 610.7,544.5 610.9,544.1 611.1,543.6 611.3,543.2 611.6,542.8 611.8,542.3 612.0,541.9 612.2,541.4 612.5,540.9 612.7,540.5 612.9,540.0 613.1,539.5 613.4,539.0 613.6,538.6 613.8,538.1 614.0,537.6 614.3,537.1 614.5,536.6 614.7,536.1 614.9,535.6 615.2,535.1 615.4,534.6 615.6,534.1 615.8,533.6"/>
<polyline class="js" points="54.2,162.1 55.6,162.1 57.0,162.1 58.4,162.1 59.8,162.1 61.2,162.1 62.6,162.1 64.0,162.1 65.4,162.1 66.8,162.1 68.2,162.1 69.6,162.1 71.0,162.1 72.4,162.1 73.8,162.1 75.2,162.1 76.7,162.1 78.1,162.1 79.5,162.1 80.9,162.1 82.3,162.1 83.7,162.1 85.1,162.1 86.5,162.1 87.9,162.1 89.3,162.1 90.7,162.1 92.1,162.1 93.5,162.1 94.9,162.1 96.3,162.1 97.7,162.1 99.2,162.1 100.6,162.1 102.0,162.1 103.4,162.1 104.8,162.1 106.2,162.1 107.6,162.1 109.0,162.1 110.4,162.1 111.8,162.1 113.2,162.1 114.6,162.1 116.0,162.1 117.4,162.1 118.8,162.1 120.2,162.1 121.7,162.1 123.1,162.1 124.5,162.1 125.9,162.1 127.3,162.1 128.7,162.1 130.1,162.1 131.5,162.1 132.9,162.1 134.3,162.1 135.7,162.1 137.1,162.1 138.5,162.1 139.9,162.1 141.3,162.1 142.7,162.1 144.2,162.1 145.6,162.1 147.0,162.1 148.4,162.1 149.8,162.1 151.2,162.1 152.6,162.1 154.0,162.1 155.4,162.2 156.8,162.2 158.2,162.2 159.6,162.3 161.0,162.4 162.4,162.5 163.8,162.7 165.2,162.9 166.7,163.2 168.1,163.6 169.5,164.2 170.9,165.0 172.3,166.0 173.7,167.1 175.1,168.0 176.5,168.5 177.9,168.7 179.3,168.9 180.7,168.9 182.1,168.8 183.5,168.6 184.9,168.2 186.3,167.3 187.7,165.9 189.2,163.6 190.6,160.1 192.0,155.6 193.4,151.3 194.8,148.4 196.2,146.4 197.6,145.3 199.0,144.7 200.4,144.4 201.8,144.3 203.2,144.3 204.6,144.4 206.0,144.6 207.4,145.0 208.8,145.7 210.2,146.9 211.7,148.4 213.1,150.4 214.5,152.8 215.9,155.3 217.3,157.8 218.7,160.2 220.1,162.6 221.5,164.9 222.9,167.3 224.3,169.8 225.7,172.4 227.1,175.1 228.5,177.5 229.9,179.5 231.3,180.9 232.7,181.8 234.2,182.4 235.6,182.6 237.0,182.6 238.4,182.6 239.8,182.4 241.2,181.8 242.6,180.8 244.0,178.9 245.4,175.7 246.8,170.7 248.2,163.5 249.6,156.0 251.0,150.5 252.4,147.0 253.8,144.9 255.2,143.8 256.7,143.2 258.1,142.9 259.5,142.8 260.9,142.9 262.3,143.0 263.7,143.4 265.1,144.1 266.5,145.2 267.9,146.7 269.3,148.7 270.7,151.2 272.1,153.9 273.5,156.6 274.9,159.2 276.3,161.7 277.7,164.1 279.2,166.6 280.6,169.2 282.0,171.9 283.4,174.8 284.8,177.5 286.2,179.8 287.6,181.6 289.0,182.9 290.4,183.6 291.8,184.0 293.2,184.1 294.6,184.1 296.0,184.0 297.4,183.6 298.8,182.8 300.2,181.2 301.7,178.5 303.1,174.1 304.5,167.4 305.9,159.1 307.3,152.1 308.7,147.6 310.1,144.7 311.5,143.0 312.9,142.2 314.3,141.8 315.7,141.7 317.1,141.8 318.5,141.9 319.9,142.1 321.3,142.7 322.7,143.6 324.2,144.9 325.6,146.7 327.0,148.9 328.4,151.5 329.8,154.3 331.2,157.0 332.6,159.9 334.0,162.8 335.4,165.8 336.8,169.1 338.2,172.3 339.6,175.5 341.0,178.4 342.4,180.8 343.8,182.7 345.2,184.1 346.7,184.9 348.1,185.5 349.5,185.8 350.9,186.0 352.3,185.8 353.7,185.4 355.1,184.5 356.5,183.1 357.9,181.0 359.3,177.6 360.7,171.4 362.1,162.2 363.5,154.4 364.9,149.9 366.3,147.3 367.7,145.5 369.2,144.2 370.6,143.0 372.0,141.8 373.4,140.9 374.8,140.5 376.2,140.6 377.6,140.8 379.0,141.6 380.4,143.0 381.8,145.1 383.2,147.6 384.6,150.4 386.0,153.6 387.4,156.9 388.8,160.2 390.2,163.5 391.7,166.7 393.1,169.9 394.5,173.1 395.9,176.1 397.3,178.8 398.7,181.2 400.1,183.4 401.5,185.4 402.9,186.7 404.3,187.2 405.7,187.4 407.1,187.3 408.5,186.9 409.9,186.0 411.3,184.0 412.7,180.7 414.2,175.7 415.6,169.1 417.0,161.0 418.4,154.2 419.8,149.7 421.2,146.9 422.6,145.2 424.0,144.4 425.4,143.9 426.8,143.1 428.2,141.9 429.6,140.3 431.0,137.9 432.4,135.7 433.8,134.6 435.2,134.7 436.7,135.6 438.1,137.8 439.5,141.6 440.9,147.6 442.3,155.8 443.7,164.1 445.1,169.5 446.5,172.8 447.9,174.9 449.3,175.9 450.7,176.0 452.1,174.4 453.5,169.8 454.9,166.6 456.3,166.7 457.7,168.1 459.2,171.1 460.6,176.1 462.0,184.5 463.4,198.9 464.8,221.5 466.2,255.0 467.6,275.8 469.0,296.9 470.4,413.5 471.8,510.2 473.2,531.2 474.6,533.3 476.0,530.6 477.4,525.8 478.8,521.4 480.2,518.0 481.7,515.4 483.1,513.4 484.5,511.9 485.9,510.8 487.3,508.3 488.7,506.7 490.1,505.5 491.5,504.7 492.9,504.2 494.3,504.2 495.7,504.6 497.1,505.3 498.5,506.4 499.9,508.0 501.3,509.8 502.7,512.0 504.2,514.4 505.6,517.1 507.0,520.0 508.4,523.0 509.8,526.2 511.2,529.4 512.6,532.6 514.0,535.8 515.4,538.8 516.8,541.8 518.2,544.5 519.6,547.1 521.0,549.3 522.4,551.3 523.8,552.9 525.2,554.2 526.7,555.0 528.1,555.5 529.5,555.6 530.9,555.3 532.3,554.6 533.7,553.5 535.1,552.1 536.5,550.3 537.9,548.1 539.3,545.7 540.7,543.1 542.1,540.2 543.5,537.2 544.9,534.1 546.3,530.9 547.7,527.6 549.2,524.5 550.6,521.4 552.0,518.4 553.4,515.6 554.8,513.1 556.2,510.8 557.6,508.8 559.0,507.1 560.4,505.8 561.8,504.9 563.2,504.3 564.6,504.2 566.0,504.4 567.4,505.1 568.8,506.1 570.2,507.5 571.7,509.3 573.1,511.4 574.5,513.7 575.9,516.4 577.3,519.2 578.7,522.2 580.1,525.3 581.5,528.5 582.9,531.7 584.3,534.9 585.7,538.0 587.1,541.0 588.5,543.8 589.9,546.4 591.3,548.7 592.7,550.8 594.2,552.5 595.6,553.9 597.0,554.8 598.4,555.4 599.8,555.6 601.2,555.4 602.6,554.8 604.0,553.8 605.4,552.5 606.8,550.8 608.2,548.7 609.6,546.4 611.0,543.8 612.4,541.0 613.8,538.0 615.2,534.9"/>
<polyline class="mn" points="54.2,162.1 55.6,162.1 57.0,162.1 58.4,162.1 59.8,162.1 61.2,162.1 62.6,162.1 64.0,162.1 65.4,162.1 66.8,162.1 68.2,162.1 69.6,162.1 71.0,162.1 72.4,162.1 73.8,162.1 75.2,162.1 76.7,162.1 78.1,162.1 79.5,162.1 80.9,162.1 82.3,162.1 83.7,162.1 85.1,162.1 86.5,162.1 87.9,162.1 89.3,162.1 90.7,162.1 92.1,162.1 93.5,162.1 94.9,162.1 96.3,162.1 97.7,162.1 99.2,162.1 100.6,162.1 102.0,162.1 103.4,162.1 104.8,162.1 106.2,162.1 107.6,162.1 109.0,162.1 110.4,162.1 111.8,162.1 113.2,162.1 114.6,162.1 116.0,162.1 117.4,162.1 118.8,162.1 120.2,162.1 121.7,162.1 123.1,162.1 124.5,162.1 125.9,162.1 127.3,162.1 128.7,162.1 130.1,162.1 131.5,162.1 132.9,162.1 134.3,162.1 135.7,162.1 137.1,162.1 138.5,162.1 139.9,162.1 141.3,162.1 142.7,162.1 144.2,162.1 145.6,162.1 147.0,162.1 148.4,162.1 149.8,162.1 151.2,162.1 152.6,162.1 154.0,162.1 155.4,162.1 156.8,162.1 158.2,162.1 159.6,162.1 161.0,162.1 162.4,162.1 163.8,162.2 165.2,162.2 166.7,162.2 168.1,162.3 169.5,162.4 170.9,162.6 172.3,163.0 173.7,163.6 175.1,164.5 176.5,165.7 177.9,167.0 179.3,168.3 180.7,169.6 182.1,170.9 183.5,172.3 184.9,173.4 186.3,174.0 187.7,173.4 189.2,170.7 190.6,164.0 192.0,154.0 193.4,145.1 194.8,140.4 196.2,138.8 197.6,138.4 199.0,138.6 200.4,139.1 201.8,139.8 203.2,140.8 204.6,141.9 206.0,143.3 207.4,144.9 208.8,146.7 210.2,148.7 211.7,150.6 213.1,152.6 214.5,154.6 215.9,156.6 217.3,158.5 218.7,160.5 220.1,162.4 221.5,164.4 222.9,166.5 224.3,168.6 225.7,170.7 227.1,172.9 228.5,175.1 229.9,177.3 231.3,179.7 232.7,182.0 234.2,184.0 235.6,185.7 237.0,187.0 238.4,188.0 239.8,189.0 241.2,189.7 242.6,189.9 244.0,189.1 245.4,186.2 246.8,178.7 248.2,164.9 249.6,150.3 251.0,141.6 252.4,138.2 253.8,137.0 255.2,136.7 256.7,136.8 258.1,137.3 259.5,138.0 260.9,139.1 262.3,140.5 263.7,142.1 265.1,144.0 266.5,146.0 267.9,148.1 269.3,150.3 270.7,152.6 272.1,154.9 273.5,157.1 274.9,159.4 276.3,161.6 277.7,163.9 279.2,166.3 280.6,168.8 282.0,171.2 283.4,173.6 284.8,176.0 286.2,178.4 287.6,180.9 289.0,183.3 290.4,185.5 291.8,187.4 293.2,188.8 294.6,189.8 296.0,190.7 297.4,191.3 298.8,191.4 300.2,190.8 301.7,188.4 303.1,182.0 304.5,170.0 305.9,156.0 307.3,145.3 308.7,140.1 310.1,137.9 311.5,136.8 312.9,136.2 314.3,136.0 315.7,136.2 317.1,136.8 318.5,137.8 319.9,139.2 321.3,140.9 322.7,142.9 324.2,145.0 325.6,147.3 327.0,149.8 328.4,152.3 329.8,154.9 331.2,157.5 332.6,160.2 334.0,162.9 335.4,165.7 336.8,168.6 338.2,171.5 339.6,174.4 341.0,177.3 342.4,180.0 343.8,182.7 345.2,185.2 346.7,187.5 348.1,189.6 349.5,191.0 350.9,192.0 352.3,192.6 353.7,192.6 355.1,191.9 356.5,189.9 357.9,186.1 359.3,179.1 360.7,168.6 362.1,157.2 363.5,149.0 364.9,145.0 366.3,143.1 367.7,142.1 369.2,141.6 370.6,141.0 372.0,140.1 373.4,138.6 374.8,137.4 376.2,137.0 377.6,136.7 379.0,136.3 380.4,136.6 381.8,137.8 383.2,140.2 384.6,144.2 386.0,150.0 387.4,157.0 388.8,164.1 390.2,170.4 391.7,175.4 393.1,178.5 394.5,179.7 395.9,179.3 397.3,178.1 398.7,176.9 400.1,176.5 401.5,177.6 402.9,180.9 404.3,185.8 405.7,190.7 407.1,195.1 408.5,198.6 409.9,200.3 411.3,199.2 412.7,193.9 414.2,183.8 415.6,169.2 417.0,151.6 418.4,135.2 419.8,123.8 421.2,119.2 422.6,122.0 424.0,131.2 425.4,144.1 426.8,156.2 428.2,163.8 429.6,164.8 431.0,158.1 432.4,145.6 433.8,131.1 435.2,119.0 436.7,111.5 438.1,109.4 439.5,115.5 440.9,129.9 442.3,150.1 443.7,172.4 445.1,190.1 446.5,199.1 447.9,200.3 449.3,196.0 450.7,188.2 452.1,177.1 453.5,163.2 454.9,152.7 456.3,148.8 457.7,149.8 459.2,156.6 460.6,169.4 462.0,188.0 463.4,211.6 464.8,238.5 466.2,272.8 467.6,280.1 469.0,314.0 470.4,470.9 471.8,524.2 473.2,533.8 474.6,533.3 476.0,530.3 477.4,526.5 478.8,523.0 480.2,519.7 481.7,516.6 483.1,513.8 484.5,511.4 485.9,509.6 487.3,508.3 488.7,506.7 490.1,505.5 491.5,504.7 492.9,504.2 494.3,504.2 495.7,504.6 497.1,505.3 498.5,506.4 499.9,508.0 501.3,509.8 502.7,512.0 504.2,514.4 505.6,517.1 507.0,520.0 508.4,523.0 509.8,526.2 511.2,529.4 512.6,532.6 514.0,535.8 515.4,538.8 516.8,541.8 518.2,544.5 519.6,547.1 521.0,549.3 522.4,551.3 523.8,552.9 525.2,554.2 526.7,555.0 528.1,555.5 529.5,555.6 530.9,555.3 532.3,554.6 533.7,553.5 535.1,552.1 536.5,550.3 537.9,548.1 539.3,545.7 540.7,543.1 542.1,540.2 543.5,537.2 544.9,534.1 546.3,530.9 547.7,527.6 549.2,524.5 550.6,521.4 552.0,518.4 553.4,515.6 554.8,513.1 556.2,510.8 557.6,508.8 559.0,507.1 560.4,505.8 561.8,504.9 563.2,504.3 564.6,504.2 566.0,504.4 567.4,505.1 568.8,506.1 570.2,507.5 571.7,509.3 573.1,511.4 574.5,513.7 575.9,516.4 577.3,519.2 578.7,522.2 580.1,525.3 581.5,528.5 582.9,531.7 584.3,534.9 585.7,538.0 587.1,541.0 588.5,543.8 589.9,546.4 591.3,548.7 592.7,550.8 594.2,552.5 595.6,553.9 597.0,554.8 598.4,555.4 599.8,555.6 601.2,555.4 602.6,554.8 604.0,553.8 605.4,552.5 606.8,550.8 608.2,548.7 609.6,546.4 611.0,543.8 612.4,541.0 613.8,538.0 615.2,534.9"/>
<polyline class="hw" points="54.2,162.1 55.6,162.1 57.0,162.1 58.4,162.1 59.8,162.1 61.2,162.1 62.6,162.1 64.0,162.1 65.4,162.1 66.8,162.1 68.2,162.1 69.6,162.1 71.0,162.1 72.4,162.1 73.8,162.1 75.2,162.1 76.7,162.1 78.1,162.1 79.5,162.1 80.9,162.1 82.3,162.1 83.7,162.1 85.1,162.1 86.5,162.1 87.9,162.1 89.3,162.1 90.7,162.1 92.1,162.1 93.5,162.1 94.9,162.1 96.3,162.1 97.7,162.1 99.2,162.1 100.6,162.1 102.0,162.1 103.4,162.1 104.8,162.1 106.2,162.1 107.6,162.1 109.0,162.1 110.4,162.1 111.8,162.1 113.2,162.1 114.6,162.1 116.0,162.1 117.4,162.1 118.8,162.1 120.2,162.1 121.7,162.1 123.1,162.1 124.5,162.1 125.9,162.1 127.3,162.1 128.7,162.1 130.1,162.1 131.5,162.1 132.9,162.1 134.3,162.1 135.7,162.1 137.1,162.1 138.5,162.1 139.9,162.1 141.3,162.1 142.7,162.1 144.2,162.1 145.6,162.1 147.0,162.1 148.4,162.1 149.8,162.1 151.2,162.1 152.6,162.1 154.0,162.1 155.4,162.1 156.8,162.1 158.2,162.1 159.6,162.1 161.0,162.1 162.4,162.1 163.8,162.1 165.2,162.1 166.7,162.1 168.1,162.2 169.5,162.2 170.9,162.3 172.3,162.4 173.7,162.6 175.1,163.0 176.5,163.7 177.9,164.7 179.3,166.2 180.7,168.2 182.1,170.5 183.5,173.0 184.9,175.2 186.3,176.7 187.7,176.8 189.2,174.5 190.6,166.8 192.0,154.6 193.4,143.5 194.8,138.0 196.2,136.6 197.6,136.4 199.0,136.9 200.4,137.9 201.8,139.2 203.2,140.8 204.6,142.4 206.0,144.0 207.4,145.6 208.8,147.2 210.2,148.9 211.7,150.7 213.1,152.6 214.5,154.6 215.9,156.5 217.3,158.5 218.7,160.4 220.1,162.4 221.5,164.5 222.9,166.6 224.3,168.8 225.7,171.0 227.1,173.1 228.5,175.1 229.9,177.2 231.3,179.2 232.7,181.3 234.2,183.3 235.6,185.2 237.0,186.9 238.4,188.6 239.8,190.3 241.2,191.6 242.6,192.4 244.0,192.1 245.4,189.7 246.8,181.8 248.2,165.8 249.6,148.3 251.0,138.5 252.4,135.6 253.8,134.7 255.2,134.5 256.7,134.8 258.1,135.7 259.5,137.0 260.9,138.7 262.3,140.6 263.7,142.6 265.1,144.4 266.5,146.2 267.9,148.1 269.3,150.3 270.7,152.6 272.1,154.9 273.5,157.2 274.9,159.4 276.3,161.7 277.7,164.1 279.2,166.6 280.6,169.2 282.0,171.7 283.4,174.1 284.8,176.3 286.2,178.5 287.6,180.7 289.0,182.9 290.4,185.1 291.8,187.1 293.2,189.0 294.6,190.7 296.0,192.1 297.4,193.3 298.8,193.9 300.2,193.5 301.7,191.2 303.1,184.3 304.5,170.6 305.9,155.0 307.3,143.5 308.7,138.4 310.1,136.2 311.5,135.0 312.9,134.3 314.3,134.1 315.7,134.5 317.1,135.5 318.5,137.1 319.9,138.9 321.3,140.9 322.7,142.8 324.2,144.9 325.6,147.1 327.0,149.5 328.4,152.1 329.8,154.8 331.2,157.5 332.6,160.3 334.0,163.1 335.4,166.0 336.8,169.1 338.2,172.1 339.6,174.9 341.0,177.7 342.4,180.2 343.8,182.7 345.2,185.1 346.7,187.5 348.1,189.7 349.5,191.7 350.9,193.3 352.3,194.4 353.7,194.7 355.1,194.1 356.5,191.9 357.9,187.1 359.3,178.4 360.7,167.0 362.1,155.8 363.5,147.6 364.9,142.9 366.3,140.5 367.7,140.4 369.2,143.1 370.6,148.7 372.0,153.0 373.4,151.8 374.8,147.6 376.2,144.0 377.6,137.6 379.0,124.9 380.4,112.2 381.8,107.0 383.2,110.0 384.6,118.4 386.0,132.6 387.4,152.5 388.8,174.0 390.2,192.2 391.7,203.6 393.1,207.2 394.5,202.8 395.9,191.0 397.3,174.3 398.7,157.2 400.1,144.2 401.5,139.2 402.9,144.5 404.3,159.5 405.7,180.3 407.1,202.7 408.5,222.6 409.9,235.5 411.3,237.9 412.7,227.5 414.2,206.1 415.6,177.3 417.0,145.3 418.4,116.1 419.8,95.0 421.2,86.5 422.6,94.2 424.0,116.5 425.4,145.9 426.8,174.1 428.2,193.4 429.6,197.3 431.0,184.2 432.4,160.1 433.8,131.1 435.2,104.0 436.7,84.1 438.1,76.0 439.5,84.6 440.9,110.1 442.3,145.8 443.7,183.5 445.1,214.0 446.5,229.6 447.9,228.8 449.3,216.2 450.7,196.1 452.1,172.7 453.5,149.9 454.9,132.8 456.3,124.3 457.7,126.1 459.2,140.1 460.6,166.1 462.0,198.6 463.4,229.7 464.8,256.2 466.2,274.6 467.6,281.6 469.0,314.9 470.4,472.8 471.8,526.8 473.2,533.8 474.6,533.2 476.0,530.1 477.4,526.7 478.8,523.5 480.2,520.3 481.7,517.3 483.1,514.6 484.5,512.1 485.9,510.0 487.3,508.3 488.7,506.7 490.1,505.5 491.5,504.7 492.9,504.2 494.3,504.2 495.7,504.6 497.1,505.3 498.5,506.4 499.9,508.0 501.3,509.8 502.7,512.0 504.2,514.4 505.6,517.1 507.0,520.0 508.4,523.0 509.8,526.2 511.2,529.4 512.6,532.6 514.0,535.8 515.4,538.8 516.8,541.8 518.2,544.5 519.6,547.1 521.0,549.3 522.4,551.3 523.8,552.9 525.2,554.2 526.7,555.0 528.1,555.5 529.5,555.6 530.9,555.3 532.3,554.6 533.7,553.5 535.1,552.1 536.5,550.3 537.9,548.1 539.3,545.7 540.7,543.1 542.1,540.2 543.5,537.2 544.9,534.1 546.3,530.9 547.7,527.6 549.2,524.5 550.6,521.4 552.0,518.4 553.4,515.6 554.8,513.1 556.2,510.8 557.6,508.8 559.0,507.1 560.4,505.8 561.8,504.9 563.2,504.3 564.6,504.2 566.0,504.4 567.4,505.1 568.8,506.1 570.2,507.5 571.7,509.3 573.1,511.4 574.5,513.7 575.9,516.4 577.3,519.2 578.7,522.2 580.1,525.3 581.5,528.5 582.9,531.7 584.3,534.9 585.7,538.0 587.1,541.0 588.5,543.8 589.9,546.4 591.3,548.7 592.7,550.8 594.2,552.5 595.6,553.9 597.0,554.8 598.4,555.4 599.8,555.6 601.2,555.4 602.6,554.8 604.0,553.8 605.4,552.5 606.8,550.8 608.2,548.7 609.6,546.4 611.0,543.8 612.4,541.0 613.8,538.0 615.2,534.9"/>
<polyline class="sh" points="54.2,162.1 55.6,162.1 57.0,162.1 58.4,162.1 59.8,162.1 61.2,162.1 62.6,162.1 64.0,162.1 65.4,162.1 66.8,162.1 68.2,162.1 69.6,162.1 71.0,162.1 72.4,162.1 73.8,162.1 75.2,162.1 76.7,162.1 78.1,162.1 79.5,162.1 80.9,162.1 82.3,162.1 83.7,162.1 85.1,162.1 86.5,162.1 87.9,162.1 89.3,162.1 90.7,162.1 92.1,162.1 93.5,162.1 94.9,162.1 96.3,162.1 97.7,162.1 99.2,162.1 100.6,162.1 102.0,162.1 103.4,162.1 104.8,162.1 106.2,162.1 107.6,162.1 109.0,162.1 110.4,162.1 111.8,162.1 113.2,162.1 114.6,162.1 116.0,162.1 117.4,162.1 118.8,162.1 120.2,162.1 121.7,162.1 123.1,162.1 124.5,162.1 125.9,162.1 127.3,162.1 128.7,162.1 130.1,162.1 131.5,162.1 132.9,162.1 134.3,162.1 135.7,162.1 137.1,162.1 138.5,162.1 139.9,162.1 141.3,162.1 142.7,162.1 144.2,162.1 145.6,162.1 147.0,162.1 148.4,162.1 149.8,162.1 151.2,162.1 152.6,162.1 154.0,162.1 155.4,162.1 156.8,162.1 158.2,162.1 159.6,162.1 161.0,162.1 162.4,162.1 163.8,162.1 165.2,162.1 166.7,162.1 168.1,162.2 169.5,162.2 170.9,162.3 172.3,162.5 173.7,162.7 175.1,163.2 176.5,163.9 177.9,164.9 179.3,166.4 180.7,168.3 182.1,170.6 183.5,172.9 184.9,175.1 186.3,176.5 187.7,176.5 189.2,174.1 190.6,166.6 192.0,154.6 193.4,143.6 194.8,138.3 196.2,136.8 197.6,136.6 199.0,137.1 200.4,138.0 201.8,139.3 203.2,140.8 204.6,142.4 206.0,144.0 207.4,145.6 208.8,147.2 210.2,148.9 211.7,150.7 213.1,152.6 214.5,154.6 215.9,156.6 217.3,158.5 218.7,160.4 220.1,162.4 221.5,164.5 222.9,166.6 224.3,168.8 225.7,171.0 227.1,173.1 228.5,175.1 229.9,177.2 231.3,179.3 232.7,181.4 234.2,183.3 235.6,185.2 237.0,186.9 238.4,188.6 239.8,190.2 241.2,191.5 242.6,192.2 244.0,191.8 245.4,189.4 246.8,181.5 248.2,165.7 249.6,148.5 251.0,138.8 252.4,135.8 253.8,134.9 255.2,134.7 256.7,135.0 258.1,135.8 259.5,137.1 260.9,138.7 262.3,140.6 263.7,142.5 265.1,144.4 266.5,146.2 267.9,148.1 269.3,150.3 270.7,152.6 272.1,154.9 273.5,157.2 274.9,159.4 276.3,161.7 277.7,164.1 279.2,166.6 280.6,169.1 282.0,171.6 283.4,174.0 284.8,176.3 286.2,178.5 287.6,180.7 289.0,183.0 290.4,185.1 291.8,187.2 293.2,189.0 294.6,190.6 296.0,192.0 297.4,193.1 298.8,193.6 300.2,193.2 301.7,191.0 303.1,184.1 304.5,170.5 305.9,155.0 307.3,143.6 308.7,138.5 310.1,136.3 311.5,135.2 312.9,134.5 314.3,134.3 315.7,134.6 317.1,135.6 318.5,137.1 319.9,138.9 321.3,140.9 322.7,142.8 324.2,144.9 325.6,147.1 327.0,149.5 328.4,152.1 329.8,154.8 331.2,157.5 332.6,160.2 334.0,163.1 335.4,166.0 336.8,169.0 338.2,172.0 339.6,174.9 341.0,177.6 342.4,180.2 343.8,182.7 345.2,185.1 346.7,187.5 348.1,189.7 349.5,191.6 350.9,193.2 352.3,194.2 353.7,194.5 355.1,193.8 356.5,191.7 357.9,187.0 359.3,178.5 360.7,167.2 362.1,156.0 363.5,147.8 364.9,143.2 366.3,140.9 367.7,140.7 369.2,143.0 370.6,147.9 372.0,151.6 373.4,150.2 374.8,146.2 376.2,142.9 377.6,137.3 379.0,126.2 380.4,115.3 381.8,111.1 383.2,114.3 384.6,122.2 386.0,135.3 387.4,153.2 388.8,172.4 390.2,188.7 391.7,198.9 393.1,202.4 394.5,199.0 395.9,189.1 397.3,174.9 398.7,160.2 400.1,149.2 401.5,145.1 402.9,150.1 404.3,163.6 405.7,181.9 407.1,201.6 408.5,218.9 409.9,230.1 411.3,231.7 412.7,221.9 414.2,202.3 415.6,175.8 417.0,146.6 418.4,119.9 419.8,101.0 421.2,93.3 422.6,100.0 424.0,119.6 425.4,145.5 426.8,170.4 428.2,187.2 429.6,190.5 431.0,178.8 432.4,157.0 433.8,131.1 435.2,107.1 436.7,89.8 438.1,83.0 439.5,91.1 440.9,114.2 442.3,146.7 443.7,181.2 445.1,209.0 446.5,223.3 447.9,222.9 449.3,212.0 450.7,194.5 452.1,173.6 453.5,152.7 454.9,136.9 456.3,129.4 457.7,131.0 459.2,143.5 460.6,166.8 462.0,196.4 463.4,225.9 464.8,252.5 466.2,274.2 467.6,281.2 469.0,314.5 470.4,472.4 471.8,526.2 473.2,533.8 474.6,533.2 476.0,530.1 477.4,526.7 478.8,523.4 480.2,520.2 481.7,517.2 483.1,514.4 484.5,512.0 485.9,509.9 487.3,508.3 488.7,506.7 490.1,505.5 491.5,504.7 492.9,504.2 494.3,504.2 495.7,504.6 497.1,505.3 498.5,506.4 499.9,508.0 501.3,509.8 502.7,512.0 504.2,514.4 505.6,517.1 507.0,520.0 508.4,523.0 509.8,526.2 511.2,529.4 512.6,532.6 514.0,535.8 515.4,538.8 516.8,541.8 518.2,544.5 519.6,547.1 521.0,549.3 522.4,551.3 523.8,552.9 525.2,554.2 526.7,555.0 528.1,555.5 529.5,555.6 530.9,555.3 532.3,554.6 533.7,553.5 535.1,552.1 536.5,550.3 537.9,548.1 539.3,545.7 540.7,543.1 542.1,540.2 543.5,537.2 544.9,534.1 546.3,530.9 547.7,527.6 549.2,524.5 550.6,521.4 552.0,518.4 553.4,515.6 554.8,513.1 556.2,510.8 557.6,508.8 559.0,507.1 560.4,505.8 561.8,504.9 563.2,504.3 564.6,504.2 566.0,504.4 567.4,505.1 568.8,506.1 570.2,507.5 571.7,509.3 573.1,511.4 574.5,513.7 575.9,516.4 577.3,519.2 578.7,522.2 580.1,525.3 581.5,528.5 582.9,531.7 584.3,534.9 585.7,538.0 587.1,541.0 588.5,543.8 589.9,546.4 591.3,548.7 592.7,550.8 594.2,552.5 595.6,553.9 597.0,554.8 598.4,555.4 599.8,555.6 601.2,555.4 602.6,554.8 604.0,553.8 605.4,552.5 606.8,550.8 608.2,548.7 609.6,546.4 611.0,543.8 612.4,541.0 613.8,538.0 615.2,534.9"/>
</g>
<g clip-path="url(#ci)" class="in">
<polyline class="ref" points="62.0,450.4 62.7,450.7 63.3,451.1 64.0,451.4 64.6,451.7 65.2,452.0 65.9,452.3 66.5,452.6 67.2,452.8 67.8,453.0 68.5,453.2 69.1,453.4 69.8,453.5 70.4,453.6 71.1,453.7 71.7,453.7 72.4,453.7 73.0,453.7 73.6,453.6 74.3,453.5 74.9,453.3 75.6,453.1 76.2,452.8 76.9,452.4 77.5,451.9 78.2,451.4 78.8,450.9 79.5,450.2 80.1,449.4 80.8,448.6 81.4,447.6 82.0,446.4 82.7,445.0 83.3,443.5 84.0,441.9 84.6,440.0 85.3,437.9 85.9,435.6 86.6,433.1 87.2,430.4 87.9,427.5 88.5,424.5 89.2,421.3 89.8,418.2 90.4,415.0 91.1,411.9 91.7,408.9 92.4,406.0 93.0,403.3 93.7,400.7 94.3,398.2 95.0,395.9 95.6,393.7 96.3,391.7 96.9,389.8 97.5,388.0 98.2,386.3 98.8,384.7 99.5,383.2 100.1,381.8 100.8,380.5 101.4,379.2 102.1,378.1 102.7,377.0 103.4,375.9 104.0,375.0 104.7,374.1 105.3,373.2 105.9,372.4 106.6,371.6 107.2,370.9 107.9,370.3 108.5,369.7 109.2,369.1 109.8,368.6 110.5,368.1 111.1,367.6 111.8,367.2 112.4,366.8 113.1,366.4 113.7,366.1 114.3,365.8 115.0,365.6 115.6,365.3 116.3,365.1 116.9,364.9 117.6,364.7 118.2,364.6 118.9,364.5 119.5,364.4 120.2,364.3 120.8,364.2 121.5,364.2 122.1,364.2 122.7,364.2 123.4,364.2 124.0,364.3 124.7,364.4 125.3,364.5 126.0,364.6 126.6,364.7 127.3,364.9 127.9,365.2 128.6,365.6 129.2,366.2 129.8,366.9 130.5,367.6 131.1,368.3 131.8,369.2 132.4,370.5 133.1,373.3 133.7,381.1 134.4,395.3 135.0,414.0 135.7,434.7 136.3,453.9 137.0,468.5 137.6,476.2 138.2,475.8 138.9,467.7 139.5,453.5 140.2,435.4 140.8,416.3 141.5,398.8 142.1,388.0 142.8,382.0 143.4,378.3 144.1,374.2 144.7,368.4 145.4,360.3 146.0,350.0 146.6,340.0 147.3,331.0 147.9,322.1 148.6,313.6 149.2,305.7 149.9,298.4 150.5,292.0 151.2,286.4 151.8,281.5 152.5,277.2 153.1,273.5 153.8,270.4 154.4,267.8 155.0,265.8 155.7,264.4 156.3,263.7 157.0,263.6 157.6,264.1 158.3,265.3 158.9,267.1 159.6,269.6 160.2,272.8 160.9,276.8 161.5,281.5 162.1,287.0 162.8,293.3 163.4,300.4 164.1,308.1 164.7,316.4 165.4,325.3 166.0,334.5 166.7,344.1 167.3,353.9 168.0,363.9 168.6,374.0 169.3,384.1 169.9,394.3 170.5,404.5 171.2,414.7 171.8,424.8 172.5,434.8 173.1,444.7 173.8,454.3 174.4,463.7 175.1,472.7 175.7,481.3 176.4,489.5 177.0,497.2 177.7,504.4 178.3,511.0 178.9,516.9 179.6,522.2 180.2,526.8 180.9,530.7 181.5,533.7 182.2,535.9 182.8,537.2 183.5,537.6 184.1,537.2 184.8,535.9 185.4,533.9 186.1,531.1 186.7,527.8 187.3,523.8 188.0,519.4 188.6,514.4 189.3,509.0 189.9,503.1 190.6,496.8 191.2,490.1 191.9,483.1 192.5,475.8 193.2,468.2 193.8,460.4 194.4,452.4 195.1,444.4 195.7,436.4 196.4,428.4 197.0,420.4 197.7,412.7 198.3,405.1 199.0,397.6 199.6,390.5 200.3,383.6 200.9,377.0 201.6,370.7 202.2,364.8 202.8,359.3 203.5,354.2 204.1,349.6 204.8,345.4 205.4,341.7 206.1,338.5 206.7,335.8 207.4,333.6 208.0,332.0 208.7,330.9 209.3,330.2 210.0,330.0 210.6,330.2 211.2,330.9 211.9,331.9 212.5,333.4 213.2,335.4 213.8,337.9 214.5,341.0 215.1,344.7 215.8,349.0 216.4,354.0 217.1,359.6 217.7,365.9 218.4,372.6 219.0,379.7 219.6,387.2 220.3,395.0 220.9,403.0 221.6,411.1 222.2,419.3 222.9,427.5 223.5,435.7 224.2,444.0 224.8,452.2 225.5,460.4 226.1,468.5 226.7,476.6 227.4,484.6 228.0,492.4 228.7,500.0 229.3,507.3 230.0,514.4 230.6,521.1 231.3,527.4 231.9,533.3 232.6,538.7 233.2,543.7 233.9,548.1 234.5,551.9 235.1,555.2 235.8,557.7 236.4,559.6 237.1,560.7 237.7,561.0 238.4,560.5 239.0,559.2 239.7,557.1 240.3,554.2 241.0,550.7 241.6,546.4 242.3,541.5 242.9,536.1 243.5,530.1 244.2,523.6 244.8,516.5 245.5,509.0 246.1,501.0 246.8,492.5 247.4,483.6 248.1,474.3 248.7,464.6 249.4,454.7 250.0,444.5 250.7,434.2 251.3,423.8 251.9,413.3 252.6,402.8 253.2,392.4 253.9,382.1 254.5,372.0 255.2,362.0 255.8,352.3 256.5,342.9 257.1,333.8 257.8,325.1 258.4,316.8 259.0,309.0 259.7,301.7 260.3,295.0 261.0,288.8 261.6,283.2 262.3,278.3 262.9,274.1 263.6,270.5 264.2,267.5 264.9,265.2 265.5,263.4 266.2,262.3 266.8,261.8 267.4,262.0 268.1,262.8 268.7,264.5 269.4,267.1 270.0,270.7 270.7,275.3 271.3,280.8 272.0,287.3 272.6,294.5 273.3,302.4 273.9,310.8 274.6,319.6 275.2,328.7 275.8,338.1 276.5,347.6 277.1,357.2 277.8,367.0 278.4,376.8 279.1,386.6 279.7,396.4 280.4,406.2 281.0,415.9 281.7,425.4 282.3,434.6 283.0,443.5 283.6,451.9 284.2,459.7 284.9,466.9 285.5,473.4 286.2,479.3 286.8,484.3 287.5,488.5 288.1,491.8 288.8,494.2 289.4,495.6 290.1,495.9 290.7,495.2 291.3,493.4 292.0,490.6 292.6,486.9 293.3,482.5 293.9,477.3 294.6,471.5 295.2,465.0 295.9,458.0 296.5,450.5 297.2,442.4 297.8,433.8 298.5,424.7 299.1,415.3 299.7,405.6 300.4,395.7 301.0,385.7 301.7,375.6 302.3,365.7 303.0,355.8 303.6,346.1 304.3,336.7 304.9,327.5 305.6,318.7 306.2,310.2 306.9,302.2 307.5,294.7 308.1,287.7 308.8,281.3 309.4,275.4 310.1,270.2 310.7,265.6 311.4,261.8 312.0,258.6 312.7,256.1 313.3,254.4 314.0,253.4 314.6,253.0 315.3,253.2 315.9,254.1 316.5,255.6 317.2,257.7 317.8,260.4 318.5,263.9 319.1,268.1 319.8,273.3 320.4,279.3 321.1,286.3 321.7,294.0 322.4,302.5 323.0,311.6 323.6,321.2 324.3,331.1 324.9,341.3 325.6,351.6 326.2,362.0 326.9,372.5 327.5,383.0 328.2,393.4 328.8,403.9 329.5,414.3 330.1,424.6 330.8,434.8 331.4,444.8 332.0,454.6 332.7,464.0 333.3,473.1 334.0,481.7 334.6,489.7 335.3,497.2 335.9,504.0 336.6,510.2 337.2,515.7 337.9,520.4 338.5,524.5 339.2,527.7 339.8,530.0 340.4,531.5 341.1,532.0 341.7,531.6 342.4,530.4 343.0,528.3 343.7,525.6 344.3,522.2 345.0,518.3 345.6,513.9 346.3,509.0 346.9,503.7 347.6,498.0 348.2,491.8 348.8,485.1 349.5,478.1 350.1,470.8 350.8,463.3 351.4,455.5 352.1,447.7 352.7,439.9 353.4,432.1 354.0,424.3 354.7,416.7 355.3,409.2 355.9,401.9 356.6,394.7 357.2,387.9 357.9,381.3 358.5,375.0 359.2,369.1 359.8,363.5 360.5,358.4 361.1,353.7 361.8,349.4 362.4,345.6 363.1,342.3 363.7,339.4 364.3,337.0 365.0,335.2 365.6,333.8 366.3,333.0 366.9,332.6 367.6,332.6 368.2,333.1 368.9,334.0 369.5,335.2 370.2,336.8 370.8,338.8 371.5,341.3 372.1,344.3 372.7,348.0 373.4,352.3 374.0,357.3 374.7,362.9 375.3,369.1 376.0,375.9 376.6,383.0 377.3,390.4 377.9,398.1 378.6,405.9 379.2,413.8 379.9,421.8 380.5,429.7 381.1,437.7 381.8,445.7 382.4,453.7 383.1,461.6 383.7,469.5 384.4,477.4 385.0,485.1 385.7,492.8 386.3,500.2 387.0,507.6 387.6,514.6 388.2,521.3 388.9,527.6 389.5,533.5 390.2,538.8 390.8,543.6 391.5,547.9 392.1,551.5 392.8,554.6 393.4,557.1 394.1,559.0 394.7,560.1 395.4,560.5 396.0,560.1 396.6,558.9 397.3,557.4 397.9,555.0 398.6,551.4 399.2,546.5 399.9,540.6 400.5,534.5 401.2,528.2 401.8,521.7 402.5,516.1 403.1,514.2 403.8,552.5 404.4,781.7 405.0,935.8 405.7,949.1 406.3,949.5 407.0,948.9 407.6,948.2 408.3,947.6 408.9,946.9 409.6,946.2 410.2,945.6 410.9,944.9 411.5,944.2 412.2,943.5 412.8,942.8 413.4,942.1 414.1,941.4 414.7,940.7 415.4,940.0 416.0,939.3 416.7,938.5 417.3,937.8 418.0,937.1 418.6,936.4 419.3,935.6 419.9,934.9 420.5,934.2 421.2,933.4 421.8,932.7 422.5,932.0 423.1,931.2 423.8,930.5 424.4,929.7 425.1,929.0 425.7,928.3 426.4,927.5 427.0,926.8 427.7,926.1 428.3,925.3 428.9,924.6 429.6,923.9 430.2,923.2 430.9,922.5 431.5,921.7 432.2,921.0 432.8,920.3 433.5,919.6 434.1,918.9 434.8,918.2 435.4,917.6 436.1,916.9 436.7,916.2 437.3,915.5 438.0,914.9 438.6,914.2 439.3,913.6 439.9,912.9 440.6,912.3 441.2,911.7 441.9,911.0 442.5,910.4 443.2,909.8 443.8,909.2 444.5,908.7 445.1,908.1 445.7,907.5 446.4,907.0 447.0,906.4 447.7,905.9 448.3,905.3 449.0,904.8 449.6,904.3 450.3,903.8 450.9,903.3 451.6,902.9 452.2,902.4 452.8,902.0 453.5,901.5 454.1,901.1 454.8,900.7 455.4,900.3 456.1,899.9 456.7,899.5 457.4,899.1"/>
<polyline class="js" points="63.6,439.2 67.6,439.0 71.6,438.4 75.7,437.1 79.7,435.1 83.7,432.1 87.8,427.2 91.8,418.3 95.9,405.1 99.9,394.0 103.9,387.6 108.0,383.8 112.0,381.3 116.0,379.4 120.1,377.6 124.1,376.0 128.2,374.7 132.2,374.1 136.2,374.2 140.3,374.5 144.3,375.6 148.3,377.7 152.4,380.7 156.4,384.2 160.5,388.3 164.5,392.8 168.5,397.5 172.6,402.3 176.6,407.0 180.6,411.7 184.7,416.2 188.7,420.7 192.8,425.0 196.8,428.9 200.8,432.4 204.9,435.6 208.9,438.4 212.9,440.2 217.0,441.0 221.0,441.2 225.1,441.1 229.1,440.5 233.1,439.2 237.2,436.3 241.2,431.6 245.2,424.4 249.3,415.0 253.3,403.4 257.4,393.7 261.4,387.2 265.4,383.2 269.5,380.9 273.5,379.8 277.5,379.0 281.6,377.8 285.6,376.1 289.7,373.8 293.7,370.4 297.7,367.2 301.8,365.6 305.8,365.9 309.8,367.2 313.9,370.2 317.9,375.7 322.0,384.3 326.0,396.0 330.0,407.9 334.1,415.7 338.1,420.3 342.1,423.3 346.2,424.7 350.2,424.9 354.3,422.6 358.3,416.0 362.3,411.5 366.4,411.6 370.4,413.6 374.4,417.9 378.5,425.1 382.5,437.1 386.6,457.7 390.6,490.0 394.6,538.0 398.7,567.7 402.7,597.9 406.7,764.8 410.8,903.2 414.8,933.2 418.9,936.3 422.9,932.4 426.9,925.5 431.0,919.2 435.0,914.4 439.0,910.6 443.1,907.7 447.1,905.6 451.2,904.0 455.2,900.4"/>
<polyline class="mn" points="63.6,447.8 67.6,448.6 71.6,448.7 75.7,447.6 79.7,444.9 83.7,439.3 87.8,429.3 91.8,414.4 95.9,398.0 99.9,386.3 103.9,380.6 108.0,377.8 112.0,376.4 116.0,375.6 120.1,374.8 124.1,373.5 128.2,371.4 132.2,369.7 136.2,369.1 140.3,368.7 144.3,368.0 148.3,368.6 152.4,370.3 156.4,373.7 160.5,379.4 164.5,387.7 168.5,397.8 172.6,407.9 176.6,416.9 180.6,424.0 184.7,428.5 188.7,430.2 192.8,429.6 196.8,427.9 200.8,426.2 204.9,425.6 208.9,427.2 212.9,432.0 217.0,438.9 221.0,445.9 225.1,452.3 229.1,457.3 233.1,459.6 237.2,458.1 241.2,450.5 245.2,436.0 249.3,415.2 253.3,390.0 257.4,366.5 261.4,350.2 265.4,343.6 269.5,347.6 273.5,360.8 277.5,379.2 281.6,396.5 285.6,407.4 289.7,409.0 293.7,399.4 297.7,381.4 301.8,360.7 305.8,343.4 309.8,332.5 313.9,329.7 317.9,338.4 322.0,358.9 326.0,387.9 330.0,419.7 334.1,445.1 338.1,457.9 342.1,459.7 346.2,453.6 350.2,442.4 354.3,426.6 358.3,406.5 362.3,391.6 366.4,385.9 370.4,387.5 374.4,397.1 378.5,415.5 382.5,442.1 386.6,475.8 390.6,514.4 394.6,563.4 398.7,573.9 402.7,622.4 406.7,847.0 410.8,923.2 414.8,936.9 418.9,936.3 422.9,931.9 426.9,926.5 431.0,921.5 435.0,916.8 439.0,912.3 443.1,908.3 447.1,904.9 451.2,902.3 455.2,900.4"/>
<polyline class="hw" points="63.6,449.7 67.6,451.2 71.6,451.7 75.7,450.8 79.7,447.7 83.7,440.9 87.8,428.4 91.8,412.1 95.9,395.9 99.9,384.3 103.9,377.5 108.0,374.0 112.0,373.9 116.0,377.9 120.1,385.8 124.1,392.1 128.2,390.3 132.2,384.3 136.2,379.1 140.3,370.0 144.3,351.7 148.3,333.6 152.4,326.2 156.4,330.5 160.5,342.5 164.5,362.9 168.5,391.3 172.6,422.1 176.6,448.1 180.6,464.3 184.7,469.6 188.7,463.2 192.8,446.4 196.8,422.5 200.8,398.0 204.9,379.5 208.9,372.2 212.9,379.9 217.0,401.3 221.0,431.0 225.1,463.2 229.1,491.6 233.1,510.1 237.2,513.4 241.2,498.6 245.2,468.0 249.3,426.8 253.3,381.0 257.4,339.2 261.4,309.0 265.4,296.8 269.5,307.9 273.5,339.8 277.5,381.8 281.6,422.2 285.6,449.8 289.7,455.4 293.7,436.6 297.7,402.1 301.8,360.7 305.8,321.9 309.8,293.3 313.9,281.9 317.9,294.1 322.0,330.6 326.0,381.6 330.0,435.7 334.1,479.3 338.1,501.7 342.1,500.5 346.2,482.4 350.2,453.7 354.3,420.2 358.3,387.6 362.3,363.0 366.4,351.0 370.4,353.5 374.4,373.5 378.5,410.7 382.5,457.2 386.6,501.8 390.6,539.6 394.6,565.9 398.7,576.0 402.7,623.7 406.7,849.7 410.8,926.9 414.8,936.9 418.9,936.1 422.9,931.6 426.9,926.8 431.0,922.1 435.0,917.6 439.0,913.4 443.1,909.4 447.1,905.9 451.2,902.9 455.2,900.4"/>
<polyline class="sh" points="63.6,449.5 67.6,451.0 71.6,451.4 75.7,450.4 79.7,447.4 83.7,440.7 87.8,428.5 91.8,412.4 95.9,396.2 99.9,384.6 103.9,378.0 108.0,374.6 112.0,374.3 116.0,377.7 120.1,384.7 124.1,389.9 128.2,388.0 132.2,382.3 136.2,377.5 140.3,369.5 144.3,353.6 148.3,338.0 152.4,332.1 156.4,336.7 160.5,348.0 164.5,366.6 168.5,392.2 172.6,419.8 176.6,443.0 180.6,457.7 184.7,462.8 188.7,457.8 192.8,443.7 196.8,423.3 200.8,402.3 204.9,386.6 208.9,380.7 212.9,387.9 217.0,407.1 221.0,433.3 225.1,461.5 229.1,486.3 233.1,502.3 237.2,504.7 241.2,490.7 245.2,462.5 249.3,424.7 253.3,382.8 257.4,344.7 261.4,317.5 265.4,306.5 269.5,316.2 273.5,344.2 277.5,381.3 281.6,416.8 285.6,440.9 289.7,445.7 293.7,428.9 297.7,397.8 301.8,360.7 305.8,326.4 309.8,301.5 313.9,291.8 317.9,303.4 322.0,336.5 326.0,382.9 330.0,432.3 334.1,472.2 338.1,492.6 342.1,492.0 346.2,476.4 350.2,451.4 354.3,421.5 358.3,391.5 362.3,369.0 366.4,358.3 370.4,360.5 374.4,378.4 378.5,411.7 382.5,454.1 386.6,496.4 390.6,534.4 394.6,565.4 398.7,575.4 402.7,623.2 406.7,849.1 410.8,926.1 414.8,936.9 418.9,936.1 422.9,931.7 426.9,926.7 431.0,922.0 435.0,917.5 439.0,913.1 443.1,909.2 447.1,905.7 451.2,902.8 455.2,900.4"/>
</g>
<rect x="71.5" y="273.5" width="376.5" height="266.0" fill="none" stroke="#3c3c3c" stroke-width="1"/>
<g>
<line x1="53.5" y1="555.64" x2="60.9" y2="555.64" class="min"/>
<line x1="53.5" y1="542.77" x2="60.9" y2="542.77" class="min"/>
<line x1="53.5" y1="529.90" x2="65.8" y2="529.90" class="maj"/>
<line x1="53.5" y1="517.03" x2="60.9" y2="517.03" class="min"/>
<line x1="53.5" y1="504.16" x2="60.9" y2="504.16" class="min"/>
<line x1="53.5" y1="491.28" x2="60.9" y2="491.28" class="min"/>
<line x1="53.5" y1="478.41" x2="60.9" y2="478.41" class="min"/>
<line x1="53.5" y1="465.54" x2="65.8" y2="465.54" class="maj"/>
<line x1="53.5" y1="452.67" x2="60.9" y2="452.67" class="min"/>
<line x1="53.5" y1="439.80" x2="60.9" y2="439.80" class="min"/>
<line x1="53.5" y1="426.92" x2="60.9" y2="426.92" class="min"/>
<line x1="53.5" y1="414.05" x2="60.9" y2="414.05" class="min"/>
<line x1="53.5" y1="401.18" x2="65.8" y2="401.18" class="maj"/>
<line x1="53.5" y1="388.31" x2="60.9" y2="388.31" class="min"/>
<line x1="53.5" y1="375.44" x2="60.9" y2="375.44" class="min"/>
<line x1="53.5" y1="362.56" x2="60.9" y2="362.56" class="min"/>
<line x1="53.5" y1="349.69" x2="60.9" y2="349.69" class="min"/>
<line x1="53.5" y1="336.82" x2="65.8" y2="336.82" class="maj"/>
<line x1="53.5" y1="323.95" x2="60.9" y2="323.95" class="min"/>
<line x1="53.5" y1="311.08" x2="60.9" y2="311.08" class="min"/>
<line x1="53.5" y1="298.20" x2="60.9" y2="298.20" class="min"/>
<line x1="53.5" y1="285.33" x2="60.9" y2="285.33" class="min"/>
<line x1="53.5" y1="272.46" x2="65.8" y2="272.46" class="maj"/>
<line x1="53.5" y1="259.59" x2="60.9" y2="259.59" class="min"/>
<line x1="53.5" y1="246.72" x2="60.9" y2="246.72" class="min"/>
<line x1="53.5" y1="233.84" x2="60.9" y2="233.84" class="min"/>
<line x1="53.5" y1="220.97" x2="60.9" y2="220.97" class="min"/>
<line x1="53.5" y1="208.10" x2="65.8" y2="208.10" class="maj"/>
<line x1="53.5" y1="195.23" x2="60.9" y2="195.23" class="min"/>
<line x1="53.5" y1="182.36" x2="60.9" y2="182.36" class="min"/>
<line x1="53.5" y1="169.48" x2="60.9" y2="169.48" class="min"/>
<line x1="53.5" y1="156.61" x2="60.9" y2="156.61" class="min"/>
<line x1="53.5" y1="143.74" x2="65.8" y2="143.74" class="maj"/>
<line x1="53.5" y1="130.87" x2="60.9" y2="130.87" class="min"/>
<line x1="53.5" y1="118.00" x2="60.9" y2="118.00" class="min"/>
<line x1="53.5" y1="105.12" x2="60.9" y2="105.12" class="min"/>
<line x1="53.5" y1="92.25" x2="60.9" y2="92.25" class="min"/>
<line x1="53.5" y1="79.38" x2="65.8" y2="79.38" class="maj"/>
<line x1="53.5" y1="66.51" x2="60.9" y2="66.51" class="min"/>
<line x1="53.45" y1="555.5" x2="53.45" y2="548.0" class="min"/>
<line x1="81.57" y1="555.5" x2="81.57" y2="548.0" class="min"/>
<line x1="109.70" y1="555.5" x2="109.70" y2="543.2" class="maj"/>
<line x1="137.82" y1="555.5" x2="137.82" y2="548.0" class="min"/>
<line x1="165.95" y1="555.5" x2="165.95" y2="548.0" class="min"/>
<line x1="194.07" y1="555.5" x2="194.07" y2="548.0" class="min"/>
<line x1="222.20" y1="555.5" x2="222.20" y2="543.2" class="maj"/>
<line x1="250.32" y1="555.5" x2="250.32" y2="548.0" class="min"/>
<line x1="278.45" y1="555.5" x2="278.45" y2="548.0" class="min"/>
<line x1="306.57" y1="555.5" x2="306.57" y2="548.0" class="min"/>
<line x1="334.70" y1="555.5" x2="334.70" y2="543.2" class="maj"/>
<line x1="362.82" y1="555.5" x2="362.82" y2="548.0" class="min"/>
<line x1="390.95" y1="555.5" x2="390.95" y2="548.0" class="min"/>
<line x1="419.07" y1="555.5" x2="419.07" y2="548.0" class="min"/>
<line x1="447.20" y1="555.5" x2="447.20" y2="543.2" class="maj"/>
<line x1="475.32" y1="555.5" x2="475.32" y2="548.0" class="min"/>
<line x1="503.45" y1="555.5" x2="503.45" y2="548.0" class="min"/>
<line x1="531.58" y1="555.5" x2="531.58" y2="548.0" class="min"/>
<line x1="559.70" y1="555.5" x2="559.70" y2="543.2" class="maj"/>
<line x1="587.83" y1="555.5" x2="587.83" y2="548.0" class="min"/>
<line x1="615.95" y1="555.5" x2="615.95" y2="548.0" class="min"/>
<polyline class="ax" points="53.5,56.5 53.5,555.5 615.95,555.5"/>
</g>
<g>
<text x="45.5" y="86.2" text-anchor="end" class="tl">4.5</text>
<text x="45.5" y="150.5" text-anchor="end" class="tl">4</text>
<text x="45.5" y="214.9" text-anchor="end" class="tl">3.5</text>
<text x="45.5" y="279.3" text-anchor="end" class="tl">3</text>
<text x="45.5" y="343.6" text-anchor="end" class="tl">2.5</text>
<text x="45.5" y="408.0" text-anchor="end" class="tl">2</text>
<text x="45.5" y="472.3" text-anchor="end" class="tl">1.5</text>
<text x="45.5" y="536.7" text-anchor="end" class="tl">1</text>
<text x="109.7" y="574.7" text-anchor="middle" class="tl">-4</text>
<text x="222.2" y="574.7" text-anchor="middle" class="tl">-2</text>
<text x="334.7" y="574.7" text-anchor="middle" class="tl">0</text>
<text x="447.2" y="574.7" text-anchor="middle" class="tl">2</text>
<text x="559.7" y="574.7" text-anchor="middle" class="tl">4</text>
<text transform="translate(11.8,306.2) rotate(-90)" text-anchor="middle" style="font-size:22px">ρ</text>
<text x="334.8" y="595.8" text-anchor="middle" style="font-size:23px;font-weight:bold">x</text>
</g>
<g>
<line x1="483.3" y1="10.6" x2="567.8" y2="10.6" class="ref" style="stroke-width:2.6"/>
<line x1="483.3" y1="33.0" x2="567.8" y2="33.0" class="js lg"/>
<line x1="483.2" y1="55.5" x2="517.4" y2="55.5" class="mn lg" style="stroke-dasharray:2.9 3.33"/><line x1="533.3" y1="55.5" x2="567.6" y2="55.5" class="mn lg" style="stroke-dasharray:2.9 3.33"/>
<use href="#mD2" x="525.6" y="77.9"/>
<line x1="483.3" y1="100.5" x2="567.8" y2="100.5" class="sh lg"/><use href="#mC2" x="525.6" y="100.5"/>
<use href="#mT2" x="525.6" y="55.7"/>
<text x="582.0" y="16.4" class="lt">Ref.</text>
<text x="582.0" y="38.3" class="lt">WENO-JS</text>
<text x="582.0" y="59.9" class="lt">WENO-MN3</text>
<text x="582.0" y="83.7" class="lt">HWMN3</text>
<text x="582.0" y="106.0" class="lt">S-HWMN3</text>
</g>
</svg>
</body></html>
